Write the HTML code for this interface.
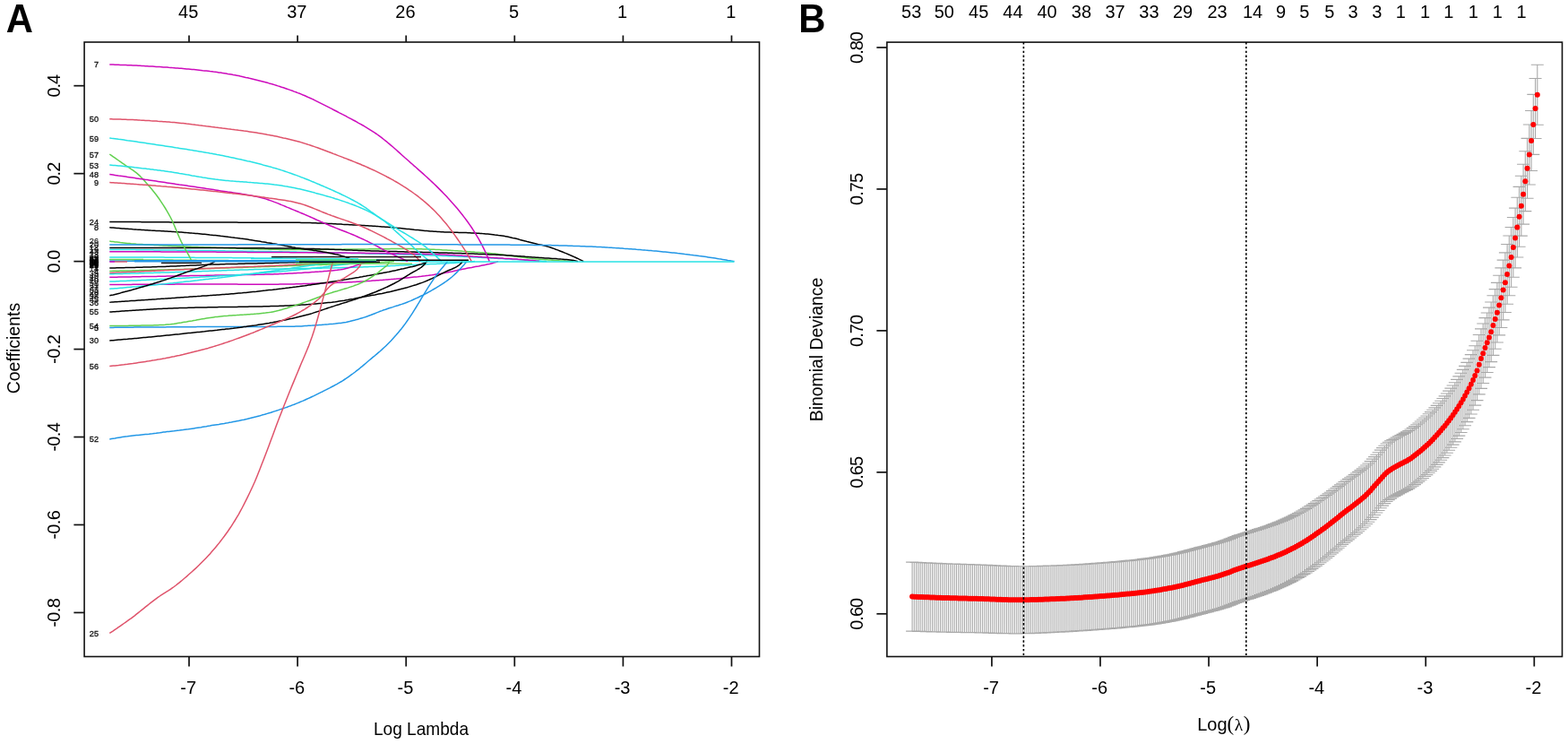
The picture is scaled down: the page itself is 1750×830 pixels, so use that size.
<!DOCTYPE html>
<html><head><meta charset="utf-8"><title>LASSO</title>
<style>html,body{margin:0;padding:0;background:#fff;}svg{display:block;}</style>
</head><body>
<svg width="1750" height="830" viewBox="0 0 1750 830">
<rect width="1750" height="830" fill="#fff"/>
<path d="M122.3 269.1 124.3 269.4 126.3 269.6 128.3 269.9 130.3 270.1 132.3 270.3 134.3 270.6 136.3 270.8 138.3 271.0 140.3 271.2 142.3 271.4 144.3 271.6 146.3 271.8 148.3 271.9 150.3 272.1 152.3 272.3 154.3 272.4 156.3 272.5 158.3 272.6 160.3 272.8 162.3 272.9 164.3 273.0 166.3 273.1 168.3 273.2 170.3 273.3 172.3 273.4 174.3 273.5 176.3 273.6 178.3 273.7 180.3 273.8 182.3 273.9 184.3 274.0 186.3 274.1 188.3 274.2 190.3 274.3 192.3 274.4 194.3 274.5 196.3 274.6 198.3 274.7 200.3 274.8 202.3 274.9 204.3 274.9 206.3 275.0 208.3 275.1 210.3 275.2 212.3 275.3 214.3 275.4 216.3 275.5 218.3 275.5 220.3 275.6 222.3 275.7 224.3 275.8 226.3 275.8 228.3 275.9 230.3 276.0 232.3 276.0 234.3 276.1 236.3 276.2 238.3 276.2 240.3 276.3 242.3 276.4 244.3 276.5 246.3 276.5 248.3 276.6 250.3 276.7 252.3 276.7 254.3 276.8 256.3 276.9 258.3 276.9 260.3 277.0 262.3 277.1 264.3 277.1 266.3 277.2 268.3 277.3 270.3 277.3 272.3 277.4 274.3 277.5 276.3 277.5 278.3 277.6 280.3 277.7 282.3 277.7 284.3 277.8 286.3 277.8 288.3 277.9 290.3 277.9 292.3 278.0 294.3 278.0 296.3 278.1 298.3 278.1 300.3 278.2 302.3 278.2 304.3 278.2 306.3 278.3 308.3 278.3 310.3 278.3 312.3 278.4 314.3 278.4 316.3 278.4 318.3 278.4 320.3 278.5 322.3 278.5 324.3 278.5 326.3 278.5 328.3 278.5 330.3 278.5 332.3 278.5 334.3 278.5 336.3 278.5 338.3 278.5 340.3 278.5 342.3 278.5 344.3 278.5 346.3 278.5 348.3 278.4 350.3 278.4 352.3 278.4 354.3 278.4 356.3 278.4 358.3 278.4 360.3 278.4 362.3 278.3 364.3 278.3 366.3 278.3 368.3 278.3 370.3 278.3 372.3 278.3 374.3 278.2 376.3 278.2 378.3 278.2 380.3 278.2 382.3 278.2 384.3 278.1 386.3 278.1 388.3 278.1 390.3 278.1 392.3 278.0 394.3 278.0 396.3 278.0 398.3 278.0 400.3 278.0 402.3 277.9 404.3 277.9 406.3 277.9 408.3 277.9 410.3 277.9 412.3 277.8 414.3 277.8 416.3 277.8 418.3 277.8 420.3 277.8 422.3 277.7 424.3 277.7 426.3 277.7 428.3 277.7 430.3 277.7 432.3 277.7 434.3 277.7 436.3 277.6 438.3 277.6 440.3 277.6 442.3 277.6 444.3 277.6 446.3 277.6 448.3 277.6 450.3 277.6 452.3 277.6 454.3 277.6 456.3 277.6 458.3 277.6 460.3 277.6 462.3 277.7 464.3 277.7 466.3 277.7 468.3 277.8 470.3 277.8 472.3 277.9 474.3 278.0 476.3 278.0 478.3 278.1 480.3 278.2 482.3 278.3 484.3 278.3 486.3 278.4 488.3 278.5 490.3 278.6 492.3 278.7 494.3 278.9 496.3 279.0 498.3 279.1 500.3 279.2 502.3 279.3 504.3 279.4 506.3 279.6 508.3 279.7 510.3 279.8 512.3 280.0 514.3 280.1 516.3 280.3 518.3 280.4 520.3 280.5 522.3 280.7 524.3 280.8 526.3 281.0 528.3 281.1 530.3 281.3 532.3 281.4 534.3 281.5 536.3 281.7 538.3 281.8 540.3 282.0 542.3 282.1 544.3 282.3 546.3 282.5 548.3 282.7 550.3 282.9 552.3 283.1 554.3 283.3 556.3 283.6 558.3 283.8 560.3 284.1 562.3 284.4 564.3 284.6 566.3 284.9 568.3 285.2 570.3 285.4 572.3 285.7 574.3 286.0 576.3 286.3 578.3 286.5 580.3 286.8 582.3 287.1 584.3 287.3 586.3 287.6 588.3 287.8 590.3 288.0 592.3 288.3 594.3 288.5 596.3 288.7 598.3 288.9 600.3 289.0 602.3 289.2 604.3 289.3 606.3 289.5 608.3 289.7 610.3 289.8 612.3 290.0 614.3 290.1 616.3 290.2 618.3 290.4 620.3 290.5 622.3 290.6 624.3 290.8 626.3 290.9 628.3 291.0 630.3 291.1 632.3 291.2 634.3 291.3 636.3 291.4 638.3 291.5 640.0 291.6" stroke="#61D04F" stroke-width="1.5" fill="none" stroke-linejoin="round"/>
<path d="M122.3 276.4 124.3 276.4 126.3 276.4 128.3 276.4 130.3 276.4 132.3 276.4 134.3 276.4 136.3 276.4 138.3 276.4 140.3 276.4 142.3 276.4 144.3 276.4 146.3 276.4 148.3 276.4 150.3 276.4 152.3 276.4 154.3 276.4 156.3 276.4 158.3 276.4 160.3 276.4 162.3 276.4 164.3 276.4 166.3 276.4 168.3 276.4 170.3 276.4 172.3 276.4 174.3 276.4 176.3 276.4 178.3 276.4 180.3 276.4 182.3 276.5 184.3 276.5 186.3 276.5 188.3 276.5 190.3 276.5 192.3 276.5 194.3 276.5 196.3 276.5 198.3 276.5 200.3 276.5 202.3 276.5 204.3 276.5 206.3 276.5 208.3 276.5 210.3 276.5 212.3 276.5 214.3 276.5 216.3 276.5 218.3 276.5 220.3 276.5 222.3 276.5 224.3 276.5 226.3 276.5 228.3 276.5 230.3 276.5 232.3 276.6 234.3 276.6 236.3 276.6 238.3 276.6 240.3 276.6 242.3 276.6 244.3 276.6 246.3 276.6 248.3 276.6 250.3 276.6 252.3 276.6 254.3 276.6 256.3 276.6 258.3 276.6 260.3 276.6 262.3 276.6 264.3 276.7 266.3 276.7 268.3 276.7 270.3 276.7 272.3 276.7 274.3 276.7 276.3 276.7 278.3 276.7 280.3 276.7 282.3 276.8 284.3 276.8 286.3 276.8 288.3 276.8 290.3 276.8 292.3 276.8 294.3 276.8 296.3 276.9 298.3 276.9 300.3 276.9 302.3 276.9 304.3 276.9 306.3 276.9 308.3 277.0 310.3 277.0 312.3 277.0 314.3 277.0 316.3 277.0 318.3 277.1 320.3 277.1 322.3 277.1 324.3 277.1 326.3 277.2 328.3 277.2 330.3 277.2 332.3 277.2 334.3 277.3 336.3 277.3 338.3 277.3 340.3 277.4 342.3 277.4 344.3 277.5 346.3 277.5 348.3 277.6 350.3 277.6 352.3 277.7 354.3 277.7 356.3 277.8 358.3 277.9 360.3 277.9 362.3 278.0 364.3 278.1 366.3 278.1 368.3 278.2 370.3 278.3 372.3 278.3 374.3 278.4 376.3 278.5 378.3 278.6 380.3 278.6 382.3 278.7 384.3 278.8 386.3 278.9 388.3 278.9 390.3 279.0 392.3 279.1 394.3 279.2 396.3 279.2 398.3 279.3 400.3 279.4 402.3 279.5 404.3 279.5 406.3 279.6 408.3 279.7 410.3 279.8 412.3 279.8 414.3 279.9 416.3 279.9 418.3 280.0 420.3 280.1 422.3 280.1 424.3 280.2 426.3 280.2 428.3 280.3 430.3 280.3 432.3 280.4 434.3 280.4 436.3 280.5 438.3 280.5 440.3 280.6 442.3 280.6 444.3 280.7 446.3 280.7 448.3 280.8 450.3 280.8 452.3 280.9 454.3 280.9 456.3 281.0 458.3 281.0 460.3 281.1 462.3 281.1 464.3 281.2 466.3 281.2 468.3 281.3 470.3 281.3 472.3 281.4 474.3 281.4 476.3 281.5 478.3 281.5 480.3 281.6 482.3 281.6 484.3 281.7 486.3 281.7 488.3 281.8 490.3 281.9 492.3 281.9 494.3 282.0 496.3 282.0 498.3 282.1 500.3 282.2 502.3 282.2 504.3 282.3 506.3 282.4 508.3 282.4 510.3 282.5 512.3 282.6 514.3 282.6 516.3 282.7 518.3 282.8 520.3 282.8 522.3 282.9 524.3 283.0 526.3 283.0 528.3 283.1 530.3 283.2 532.3 283.3 534.3 283.4 536.3 283.4 538.3 283.5 540.3 283.6 542.3 283.7 544.3 283.8 546.3 283.9 548.3 283.9 550.3 284.0 552.3 284.1 554.3 284.2 556.3 284.3 558.3 284.4 560.3 284.5 562.3 284.6 564.3 284.7 566.3 284.9 568.3 285.0 570.3 285.1 572.3 285.2 574.3 285.4 576.3 285.5 578.3 285.7 580.3 285.8 582.3 286.0 584.3 286.1 586.3 286.3 588.3 286.4 590.3 286.6 592.3 286.7 594.3 286.9 596.3 287.0 598.3 287.2 600.3 287.3 602.3 287.5 604.3 287.6 606.3 287.7 608.3 287.9 610.3 288.0 612.3 288.1 614.3 288.2 616.3 288.4 618.3 288.5 620.3 288.6 622.3 288.8 624.3 288.9 626.3 289.1 628.3 289.2 630.3 289.4 632.3 289.6 634.3 289.8 636.3 290.0 638.3 290.3 640.3 290.6 642.3 291.0 644.3 291.4 645.0 291.6" stroke="#000000" stroke-width="1.5" fill="none" stroke-linejoin="round"/>
<path d="M122.3 278.4 124.3 278.4 126.3 278.4 128.3 278.4 130.3 278.5 132.3 278.5 134.3 278.5 136.3 278.5 138.3 278.5 140.3 278.5 142.3 278.6 144.3 278.6 146.3 278.6 148.3 278.6 150.3 278.6 152.3 278.7 154.3 278.7 156.3 278.7 158.3 278.7 160.3 278.7 162.3 278.7 164.3 278.8 166.3 278.8 168.3 278.8 170.3 278.8 172.3 278.9 174.3 278.9 176.3 278.9 178.3 278.9 180.3 278.9 182.3 279.0 184.3 279.0 186.3 279.0 188.3 279.0 190.3 279.1 192.3 279.1 194.3 279.1 196.3 279.1 198.3 279.2 200.3 279.2 202.3 279.2 204.3 279.2 206.3 279.2 208.3 279.3 210.3 279.3 212.3 279.3 214.3 279.4 216.3 279.4 218.3 279.4 220.3 279.4 222.3 279.5 224.3 279.5 226.3 279.5 228.3 279.5 230.3 279.6 232.3 279.6 234.3 279.6 236.3 279.6 238.3 279.7 240.3 279.7 242.3 279.7 244.3 279.8 246.3 279.8 248.3 279.8 250.3 279.8 252.3 279.9 254.3 279.9 256.3 279.9 258.3 280.0 260.3 280.0 262.3 280.0 264.3 280.0 266.3 280.1 268.3 280.1 270.3 280.1 272.3 280.2 274.3 280.2 276.3 280.2 278.3 280.3 280.3 280.3 282.3 280.3 284.3 280.4 286.3 280.4 288.3 280.4 290.3 280.4 292.3 280.5 294.3 280.5 296.3 280.5 298.3 280.6 300.3 280.6 302.3 280.6 304.3 280.7 306.3 280.7 308.3 280.7 310.3 280.8 312.3 280.8 314.3 280.8 316.3 280.9 318.3 280.9 320.3 280.9 322.3 281.0 324.3 281.0 326.3 281.0 328.3 281.1 330.3 281.1 332.3 281.2 334.3 281.2 336.3 281.2 338.3 281.3 340.3 281.3 342.3 281.3 344.3 281.4 346.3 281.4 348.3 281.5 350.3 281.5 352.3 281.5 354.3 281.6 356.3 281.6 358.3 281.7 360.3 281.7 362.3 281.7 364.3 281.8 366.3 281.8 368.3 281.9 370.3 281.9 372.3 281.9 374.3 282.0 376.3 282.0 378.3 282.1 380.3 282.1 382.3 282.2 384.3 282.2 386.3 282.3 388.3 282.3 390.3 282.3 392.3 282.4 394.3 282.4 396.3 282.5 398.3 282.5 400.3 282.6 402.3 282.6 404.3 282.7 406.3 282.7 408.3 282.8 410.3 282.8 412.3 282.9 414.3 282.9 416.3 283.0 418.3 283.0 420.3 283.1 422.3 283.1 424.3 283.2 426.3 283.2 428.3 283.3 430.3 283.3 432.3 283.4 434.3 283.4 436.3 283.5 438.3 283.6 440.3 283.6 442.3 283.7 444.3 283.7 446.3 283.8 448.3 283.8 450.3 283.9 452.3 284.0 454.3 284.0 456.3 284.1 458.3 284.1 460.3 284.2 462.3 284.3 464.3 284.3 466.3 284.4 468.3 284.5 470.3 284.5 472.3 284.6 474.3 284.7 476.3 284.8 478.3 284.8 480.3 284.9 482.3 285.0 484.3 285.0 486.3 285.1 488.3 285.2 490.3 285.3 492.3 285.3 494.3 285.4 496.3 285.5 498.3 285.6 500.3 285.7 502.3 285.7 504.3 285.8 506.3 285.9 508.3 286.0 510.3 286.1 512.3 286.2 514.3 286.3 516.3 286.3 518.3 286.4 520.3 286.5 522.3 286.6 524.3 286.7 526.3 286.8 528.3 286.9 530.3 287.0 532.3 287.1 534.3 287.2 536.3 287.3 538.3 287.4 540.3 287.5 542.3 287.6 544.3 287.7 546.3 287.8 548.3 288.0 550.3 288.1 552.3 288.2 554.3 288.3 556.3 288.4 558.3 288.5 560.3 288.6 562.3 288.8 564.3 288.9 566.3 289.0 568.3 289.1 570.3 289.2 572.3 289.4 574.3 289.5 576.3 289.6 578.3 289.7 580.3 289.8 582.3 289.9 584.3 290.0 586.3 290.2 588.3 290.3 590.3 290.4 592.3 290.5 594.3 290.6 596.3 290.8 598.3 290.9 600.3 291.0 602.3 291.1 604.3 291.2 606.3 291.4 608.3 291.5 610.0 291.6" stroke="#28E2E5" stroke-width="1.5" fill="none" stroke-linejoin="round"/>
<path d="M122.3 280.7 124.3 280.7 126.3 280.7 128.3 280.7 130.3 280.7 132.3 280.7 134.3 280.7 136.3 280.7 138.3 280.7 140.3 280.7 142.3 280.7 144.3 280.7 146.3 280.7 148.3 280.8 150.3 280.8 152.3 280.8 154.3 280.8 156.3 280.8 158.3 280.8 160.3 280.8 162.3 280.8 164.3 280.8 166.3 280.8 168.3 280.8 170.3 280.8 172.3 280.8 174.3 280.8 176.3 280.8 178.3 280.8 180.3 280.9 182.3 280.9 184.3 280.9 186.3 280.9 188.3 280.9 190.3 280.9 192.3 280.9 194.3 280.9 196.3 280.9 198.3 280.9 200.3 280.9 202.3 280.9 204.3 281.0 206.3 281.0 208.3 281.0 210.3 281.0 212.3 281.0 214.3 281.0 216.3 281.0 218.3 281.0 220.3 281.0 222.3 281.0 224.3 281.1 226.3 281.1 228.3 281.1 230.3 281.1 232.3 281.1 234.3 281.1 236.3 281.1 238.3 281.1 240.3 281.1 242.3 281.2 244.3 281.2 246.3 281.2 248.3 281.2 250.3 281.2 252.3 281.2 254.3 281.2 256.3 281.2 258.3 281.2 260.3 281.3 262.3 281.3 264.3 281.3 266.3 281.3 268.3 281.3 270.3 281.3 272.3 281.3 274.3 281.3 276.3 281.4 278.3 281.4 280.3 281.4 282.3 281.4 284.3 281.4 286.3 281.4 288.3 281.4 290.3 281.4 292.3 281.5 294.3 281.5 296.3 281.5 298.3 281.5 300.3 281.5 302.3 281.5 304.3 281.5 306.3 281.5 308.3 281.6 310.3 281.6 312.3 281.6 314.3 281.6 316.3 281.6 318.3 281.6 320.3 281.6 322.3 281.6 324.3 281.7 326.3 281.7 328.3 281.7 330.3 281.7 332.3 281.7 334.3 281.7 336.3 281.7 338.3 281.7 340.3 281.8 342.3 281.8 344.3 281.8 346.3 281.8 348.3 281.8 350.3 281.8 352.3 281.8 354.3 281.9 356.3 281.9 358.3 281.9 360.3 281.9 362.3 281.9 364.3 281.9 366.3 282.0 368.3 282.0 370.3 282.0 372.3 282.0 374.3 282.0 376.3 282.0 378.3 282.1 380.3 282.1 382.3 282.1 384.3 282.1 386.3 282.1 388.3 282.2 390.3 282.2 392.3 282.2 394.3 282.2 396.3 282.2 398.3 282.3 400.3 282.3 402.3 282.3 404.3 282.3 406.3 282.3 408.3 282.4 410.3 282.4 412.3 282.4 414.3 282.4 416.3 282.5 418.3 282.5 420.3 282.5 422.3 282.5 424.3 282.6 426.3 282.6 428.3 282.6 430.3 282.6 432.3 282.7 434.3 282.7 436.3 282.7 438.3 282.7 440.3 282.8 442.3 282.8 444.3 282.8 446.3 282.9 448.3 282.9 450.3 282.9 452.3 283.0 454.3 283.0 456.3 283.0 458.3 283.1 460.3 283.1 462.3 283.1 464.3 283.2 466.3 283.2 468.3 283.2 470.3 283.3 472.3 283.3 474.3 283.4 476.3 283.4 478.3 283.4 480.3 283.5 482.3 283.5 484.3 283.6 486.3 283.7 488.3 283.7 490.3 283.8 492.3 283.9 494.3 284.0 496.3 284.1 498.3 284.2 500.3 284.3 502.3 284.4 504.3 284.5 506.3 284.6 508.3 284.8 510.3 284.9 512.3 285.0 514.3 285.1 516.3 285.3 518.3 285.4 520.3 285.5 522.3 285.7 524.3 285.8 526.3 285.9 528.3 286.1 530.3 286.2 532.3 286.3 534.3 286.5 536.3 286.6 538.3 286.8 540.3 286.9 542.3 287.0 544.3 287.2 546.3 287.3 548.3 287.4 550.3 287.5 552.3 287.7 554.3 287.8 556.3 287.9 558.3 288.0 560.3 288.1 562.3 288.3 564.3 288.4 566.3 288.5 568.3 288.6 570.3 288.7 572.3 288.9 574.3 289.0 576.3 289.1 578.3 289.3 580.3 289.4 582.3 289.6 584.3 289.7 586.3 289.9 588.3 290.0 590.3 290.2 592.3 290.4 594.3 290.6 596.3 290.8 598.3 291.1 600.3 291.3 602.0 291.6" stroke="#CD0BBC" stroke-width="1.5" fill="none" stroke-linejoin="round"/>
<path d="M122.3 287.0 124.3 287.0 126.3 287.0 128.3 287.0 130.3 287.0 132.3 287.0 134.3 287.0 136.3 287.0 138.3 287.0 140.3 287.0 142.3 287.0 144.3 287.0 146.3 287.0 148.3 287.0 150.3 287.0 152.3 287.0 154.3 287.0 156.3 287.0 158.3 287.1 160.3 287.1 162.3 287.1 164.3 287.1 166.3 287.1 168.3 287.1 170.3 287.1 172.3 287.1 174.3 287.1 176.3 287.1 178.3 287.1 180.3 287.1 182.3 287.1 184.3 287.2 186.3 287.2 188.3 287.2 190.3 287.2 192.3 287.2 194.3 287.2 196.3 287.2 198.3 287.2 200.3 287.2 202.3 287.3 204.3 287.3 206.3 287.3 208.3 287.3 210.3 287.3 212.3 287.3 214.3 287.3 216.3 287.3 218.3 287.4 220.3 287.4 222.3 287.4 224.3 287.4 226.3 287.4 228.3 287.4 230.3 287.4 232.3 287.4 234.3 287.5 236.3 287.5 238.3 287.5 240.3 287.5 242.3 287.5 244.3 287.5 246.3 287.6 248.3 287.6 250.3 287.6 252.3 287.6 254.3 287.6 256.3 287.6 258.3 287.6 260.3 287.7 262.3 287.7 264.3 287.7 266.3 287.7 268.3 287.7 270.3 287.7 272.3 287.8 274.3 287.8 276.3 287.8 278.3 287.8 280.3 287.8 282.3 287.8 284.3 287.9 286.3 287.9 288.3 287.9 290.3 287.9 292.3 287.9 294.3 288.0 296.3 288.0 298.3 288.0 300.3 288.0 302.3 288.0 304.3 288.0 306.3 288.1 308.3 288.1 310.3 288.1 312.3 288.1 314.3 288.1 316.3 288.2 318.3 288.2 320.3 288.2 322.3 288.2 324.3 288.3 326.3 288.3 328.3 288.3 330.3 288.3 332.3 288.4 334.3 288.4 336.3 288.4 338.3 288.5 340.3 288.5 342.3 288.5 344.3 288.6 346.3 288.6 348.3 288.6 350.3 288.7 352.3 288.7 354.3 288.7 356.3 288.8 358.3 288.8 360.3 288.8 362.3 288.9 364.3 288.9 366.3 288.9 368.3 289.0 370.3 289.0 372.3 289.0 374.3 289.1 376.3 289.1 378.3 289.2 380.3 289.2 382.3 289.2 384.3 289.3 386.3 289.3 388.3 289.4 390.3 289.4 392.3 289.4 394.3 289.5 396.3 289.5 398.3 289.6 400.3 289.6 402.3 289.6 404.3 289.7 406.3 289.7 408.3 289.8 410.3 289.8 412.3 289.9 414.3 289.9 416.3 290.0 418.3 290.0 420.3 290.1 422.3 290.1 424.3 290.2 426.3 290.2 428.3 290.3 430.3 290.4 432.3 290.4 434.3 290.5 436.3 290.5 438.3 290.6 440.3 290.6 442.3 290.7 444.3 290.8 446.3 290.8 448.3 290.9 450.3 291.0 452.3 291.0 454.3 291.1 456.3 291.1 458.3 291.2 460.3 291.3 462.3 291.3 464.3 291.4 466.3 291.5 468.3 291.5 470.0 291.6" stroke="#28E2E5" stroke-width="1.5" fill="none" stroke-linejoin="round"/>
<path d="M122.3 289.7 124.3 289.7 126.3 289.7 128.3 289.7 130.3 289.7 132.3 289.8 134.3 289.8 136.3 289.8 138.3 289.8 140.3 289.8 142.3 289.8 144.3 289.8 146.3 289.8 148.3 289.9 150.3 289.9 152.3 289.9 154.3 289.9 156.3 289.9 158.3 289.9 160.3 289.9 162.3 289.9 164.3 290.0 166.3 290.0 168.3 290.0 170.3 290.0 172.3 290.0 174.3 290.0 176.3 290.0 178.3 290.0 180.3 290.1 182.3 290.1 184.3 290.1 186.3 290.1 188.3 290.1 190.3 290.1 192.3 290.1 194.3 290.2 196.3 290.2 198.3 290.2 200.3 290.2 202.3 290.2 204.3 290.2 206.3 290.3 208.3 290.3 210.3 290.3 212.3 290.3 214.3 290.3 216.3 290.3 218.3 290.3 220.3 290.4 222.3 290.4 224.3 290.4 226.3 290.4 228.3 290.4 230.3 290.4 232.3 290.5 234.3 290.5 236.3 290.5 238.3 290.5 240.3 290.5 242.3 290.5 244.3 290.6 246.3 290.6 248.3 290.6 250.3 290.6 252.3 290.6 254.3 290.6 256.3 290.7 258.3 290.7 260.3 290.7 262.3 290.7 264.3 290.7 266.3 290.7 268.3 290.8 270.3 290.8 272.3 290.8 274.3 290.8 276.3 290.8 278.3 290.9 280.3 290.9 282.3 290.9 284.3 290.9 286.3 290.9 288.3 290.9 290.3 291.0 292.3 291.0 294.3 291.0 296.3 291.0 298.3 291.0 300.3 291.1 302.3 291.1 304.3 291.1 306.3 291.1 308.3 291.1 310.3 291.2 312.3 291.2 314.3 291.2 316.3 291.2 318.3 291.3 320.3 291.3 322.3 291.3 324.3 291.3 326.3 291.3 328.3 291.4 330.3 291.4 332.3 291.4 334.3 291.4 336.3 291.4 338.3 291.5 340.3 291.5 342.3 291.5 344.3 291.5 346.3 291.6 348.3 291.6 350.0 291.6" stroke="#61D04F" stroke-width="1.5" fill="none" stroke-linejoin="round"/>
<path d="M122.3 291.2 124.3 291.2 126.3 291.2 128.3 291.2 130.3 291.2 132.3 291.2 134.3 291.2 136.3 291.2 138.3 291.2 140.3 291.2 142.3 291.2 144.3 291.2 146.3 291.2 148.3 291.2 150.3 291.2 152.3 291.2 154.3 291.2 156.3 291.2 158.3 291.2 160.3 291.2 162.3 291.2 164.3 291.2 166.3 291.2 168.3 291.2 170.3 291.2 172.3 291.2 174.3 291.2 176.3 291.2 178.3 291.2 180.3 291.2 182.3 291.2 184.3 291.2 186.3 291.2 188.3 291.2 190.3 291.2 192.3 291.2 194.3 291.2 196.3 291.2 198.3 291.2 200.3 291.2 202.3 291.2 204.3 291.2 206.3 291.2 208.3 291.2 210.3 291.2 212.3 291.2 214.3 291.2 216.3 291.2 218.3 291.2 220.3 291.2 222.3 291.2 224.3 291.2 226.3 291.2 228.3 291.2 230.3 291.2 232.3 291.2 234.3 291.2 236.3 291.2 238.3 291.2 240.3 291.2 242.3 291.3 244.3 291.3 246.3 291.3 248.3 291.3 250.3 291.3 252.3 291.3 254.3 291.3 256.3 291.3 258.3 291.3 260.3 291.3 262.3 291.3 264.3 291.3 266.3 291.3 268.3 291.3 270.3 291.3 272.3 291.3 274.3 291.3 276.3 291.3 278.3 291.3 280.3 291.3 282.3 291.3 284.3 291.3 286.3 291.3 288.3 291.3 290.3 291.3 292.3 291.3 294.3 291.3 296.3 291.3 298.3 291.3 300.3 291.3 302.3 291.3 304.3 291.3 306.3 291.3 308.3 291.3 310.3 291.3 312.3 291.3 314.3 291.3 316.3 291.3 318.3 291.3 320.3 291.3 322.3 291.3 324.3 291.3 326.3 291.3 328.3 291.3 330.3 291.3 332.3 291.3 334.3 291.4 336.3 291.4 338.3 291.4 340.3 291.4 342.3 291.4 344.3 291.4 346.3 291.4 348.3 291.4 350.3 291.4 352.3 291.4 354.3 291.4 356.3 291.4 358.3 291.4 360.3 291.4 362.3 291.4 364.3 291.4 366.3 291.4 368.3 291.4 370.3 291.4 372.3 291.4 374.3 291.5 376.3 291.5 378.3 291.5 380.3 291.5 382.3 291.5 384.3 291.5 386.3 291.5 388.3 291.5 390.3 291.5 392.3 291.5 394.3 291.5 396.3 291.5 398.3 291.5 400.3 291.5 402.3 291.5 404.3 291.5 406.3 291.6 408.3 291.6 410.3 291.6 412.3 291.6 414.3 291.6 416.3 291.6 418.3 291.6 420.0 291.6" stroke="#2297E6" stroke-width="1.5" fill="none" stroke-linejoin="round"/>
<path d="M122.3 299.0 124.3 299.0 126.3 298.9 128.3 298.9 130.3 298.8 132.3 298.8 134.3 298.8 136.3 298.7 138.3 298.7 140.3 298.6 142.3 298.6 144.3 298.5 146.3 298.5 148.3 298.4 150.3 298.4 152.3 298.3 154.3 298.3 156.3 298.2 158.3 298.2 160.3 298.1 162.3 298.0 164.3 298.0 166.3 297.9 168.3 297.9 170.3 297.8 172.3 297.7 174.3 297.7 176.3 297.6 178.3 297.6 180.3 297.5 182.3 297.4 184.3 297.4 186.3 297.3 188.3 297.2 190.3 297.1 192.3 297.0 194.3 297.0 196.3 296.9 198.3 296.8 200.3 296.7 202.3 296.6 204.3 296.5 206.3 296.4 208.3 296.3 210.3 296.2 212.3 296.1 214.3 296.0 216.3 296.0 218.3 295.9 220.3 295.8 222.3 295.7 224.3 295.6 226.3 295.5 228.3 295.4 230.3 295.3 232.3 295.3 234.3 295.2 236.3 295.1 238.3 295.1 240.3 295.0 242.3 294.9 244.3 294.9 246.3 294.8 248.3 294.8 250.3 294.7 252.3 294.6 254.3 294.6 256.3 294.5 258.3 294.5 260.3 294.5 262.3 294.4 264.3 294.4 266.3 294.3 268.3 294.3 270.3 294.2 272.3 294.2 274.3 294.1 276.3 294.1 278.3 294.0 280.3 294.0 282.3 293.9 284.3 293.9 286.3 293.9 288.3 293.8 290.3 293.8 292.3 293.7 294.3 293.7 296.3 293.6 298.3 293.5 300.3 293.5 302.3 293.4 304.3 293.4 306.3 293.3 308.3 293.3 310.3 293.2 312.3 293.1 314.3 293.1 316.3 293.0 318.3 293.0 320.3 292.9 322.3 292.8 324.3 292.8 326.3 292.7 328.3 292.7 330.3 292.6 332.3 292.5 334.3 292.5 336.3 292.4 338.3 292.3 340.3 292.3 342.3 292.2 344.3 292.1 346.3 292.1 348.3 292.0 350.3 291.9 352.3 291.9 354.3 291.8 356.3 291.7 358.3 291.7 360.0 291.6" stroke="#000000" stroke-width="1.5" fill="none" stroke-linejoin="round"/>
<path d="M122.3 302.4 124.3 302.4 126.3 302.3 128.3 302.3 130.3 302.2 132.3 302.2 134.3 302.1 136.3 302.1 138.3 302.0 140.3 302.0 142.3 302.0 144.3 301.9 146.3 301.9 148.3 301.8 150.3 301.8 152.3 301.7 154.3 301.7 156.3 301.6 158.3 301.6 160.3 301.5 162.3 301.5 164.3 301.4 166.3 301.4 168.3 301.3 170.3 301.3 172.3 301.2 174.3 301.2 176.3 301.1 178.3 301.1 180.3 301.0 182.3 301.0 184.3 300.9 186.3 300.9 188.3 300.8 190.3 300.8 192.3 300.7 194.3 300.7 196.3 300.6 198.3 300.5 200.3 300.5 202.3 300.4 204.3 300.4 206.3 300.3 208.3 300.3 210.3 300.2 212.3 300.2 214.3 300.1 216.3 300.0 218.3 300.0 220.3 299.9 222.3 299.9 224.3 299.8 226.3 299.7 228.3 299.7 230.3 299.6 232.3 299.6 234.3 299.5 236.3 299.4 238.3 299.4 240.3 299.3 242.3 299.3 244.3 299.2 246.3 299.1 248.3 299.1 250.3 299.0 252.3 298.9 254.3 298.9 256.3 298.8 258.3 298.8 260.3 298.7 262.3 298.6 264.3 298.6 266.3 298.5 268.3 298.4 270.3 298.4 272.3 298.3 274.3 298.2 276.3 298.2 278.3 298.1 280.3 298.0 282.3 298.0 284.3 297.9 286.3 297.8 288.3 297.8 290.3 297.7 292.3 297.6 294.3 297.6 296.3 297.5 298.3 297.4 300.3 297.4 302.3 297.3 304.3 297.2 306.3 297.2 308.3 297.1 310.3 297.0 312.3 296.9 314.3 296.9 316.3 296.8 318.3 296.7 320.3 296.7 322.3 296.6 324.3 296.5 326.3 296.5 328.3 296.4 330.3 296.3 332.3 296.3 334.3 296.2 336.3 296.1 338.3 296.1 340.3 296.0 342.3 295.9 344.3 295.9 346.3 295.8 348.3 295.7 350.3 295.7 352.3 295.6 354.3 295.5 356.3 295.5 358.3 295.4 360.3 295.3 362.3 295.3 364.3 295.2 366.3 295.1 368.3 295.1 370.3 295.0 372.3 294.9 374.3 294.9 376.3 294.8 378.3 294.7 380.3 294.7 382.3 294.6 384.3 294.5 386.3 294.5 388.3 294.4 390.3 294.3 392.3 294.2 394.3 294.2 396.3 294.1 398.3 294.0 400.3 293.9 402.3 293.8 404.3 293.7 406.3 293.7 408.3 293.6 410.3 293.5 412.3 293.4 414.3 293.3 416.3 293.2 418.3 293.1 420.3 293.0 422.3 292.9 424.3 292.8 426.3 292.6 428.3 292.5 430.3 292.3 432.3 292.2 434.3 292.0 436.3 291.9 438.3 291.7 440.0 291.6" stroke="#61D04F" stroke-width="1.5" fill="none" stroke-linejoin="round"/>
<path d="M122.3 304.5 124.3 304.4 126.3 304.3 128.3 304.2 130.3 304.1 132.3 304.0 134.3 303.9 136.3 303.8 138.3 303.7 140.3 303.7 142.3 303.6 144.3 303.5 146.3 303.4 148.3 303.3 150.3 303.2 152.3 303.1 154.3 303.0 156.3 302.9 158.3 302.8 160.3 302.7 162.3 302.6 164.3 302.5 166.3 302.4 168.3 302.4 170.3 302.3 172.3 302.2 174.3 302.1 176.3 302.0 178.3 301.9 180.3 301.8 182.3 301.7 184.3 301.6 186.3 301.5 188.3 301.4 190.3 301.3 192.3 301.3 194.3 301.2 196.3 301.1 198.3 301.0 200.3 300.9 202.3 300.8 204.3 300.7 206.3 300.6 208.3 300.5 210.3 300.4 212.3 300.3 214.3 300.3 216.3 300.2 218.3 300.1 220.3 300.0 222.3 299.9 224.3 299.8 226.3 299.7 228.3 299.6 230.3 299.5 232.3 299.4 234.3 299.4 236.3 299.3 238.3 299.2 240.3 299.1 242.3 299.0 244.3 298.9 246.3 298.8 248.3 298.8 250.3 298.7 252.3 298.6 254.3 298.5 256.3 298.4 258.3 298.3 260.3 298.3 262.3 298.2 264.3 298.1 266.3 298.0 268.3 297.9 270.3 297.9 272.3 297.8 274.3 297.7 276.3 297.6 278.3 297.5 280.3 297.5 282.3 297.4 284.3 297.3 286.3 297.2 288.3 297.1 290.3 297.0 292.3 297.0 294.3 296.9 296.3 296.8 298.3 296.7 300.3 296.6 302.3 296.5 304.3 296.4 306.3 296.4 308.3 296.3 310.3 296.2 312.3 296.1 314.3 296.0 316.3 295.9 318.3 295.8 320.3 295.7 322.3 295.6 324.3 295.5 326.3 295.4 328.3 295.3 330.3 295.2 332.3 295.1 334.3 295.0 336.3 294.9 338.3 294.8 340.3 294.6 342.3 294.5 344.3 294.4 346.3 294.3 348.3 294.2 350.3 294.0 352.3 293.9 354.3 293.8 356.3 293.6 358.3 293.5 360.3 293.4 362.3 293.2 364.3 293.1 366.3 293.0 368.3 292.8 370.3 292.7 372.3 292.5 374.3 292.4 376.3 292.2 378.3 292.1 380.3 291.9 382.3 291.8 384.3 291.7 385.0 291.6" stroke="#DF536B" stroke-width="1.5" fill="none" stroke-linejoin="round"/>
<path d="M122.3 305.8 124.3 305.7 126.3 305.7 128.3 305.6 130.3 305.6 132.3 305.5 134.3 305.5 136.3 305.4 138.3 305.3 140.3 305.3 142.3 305.2 144.3 305.2 146.3 305.1 148.3 305.1 150.3 305.0 152.3 304.9 154.3 304.9 156.3 304.8 158.3 304.8 160.3 304.7 162.3 304.6 164.3 304.6 166.3 304.5 168.3 304.5 170.3 304.4 172.3 304.3 174.3 304.3 176.3 304.2 178.3 304.2 180.3 304.1 182.3 304.0 184.3 304.0 186.3 303.9 188.3 303.9 190.3 303.8 192.3 303.7 194.3 303.7 196.3 303.6 198.3 303.6 200.3 303.5 202.3 303.4 204.3 303.4 206.3 303.3 208.3 303.2 210.3 303.2 212.3 303.1 214.3 303.0 216.3 303.0 218.3 302.9 220.3 302.8 222.3 302.8 224.3 302.7 226.3 302.6 228.3 302.5 230.3 302.5 232.3 302.4 234.3 302.3 236.3 302.3 238.3 302.2 240.3 302.1 242.3 302.0 244.3 302.0 246.3 301.9 248.3 301.8 250.3 301.7 252.3 301.7 254.3 301.6 256.3 301.5 258.3 301.5 260.3 301.4 262.3 301.3 264.3 301.3 266.3 301.2 268.3 301.1 270.3 301.1 272.3 301.0 274.3 300.9 276.3 300.9 278.3 300.8 280.3 300.7 282.3 300.7 284.3 300.6 286.3 300.6 288.3 300.5 290.3 300.4 292.3 300.4 294.3 300.3 296.3 300.3 298.3 300.2 300.3 300.2 302.3 300.1 304.3 300.1 306.3 300.1 308.3 300.0 310.3 300.0 312.3 299.9 314.3 299.9 316.3 299.9 318.3 299.8 320.3 299.8 322.3 299.8 324.3 299.7 326.3 299.7 328.3 299.7 330.3 299.6 332.3 299.6 334.3 299.6 336.3 299.5 338.3 299.5 340.3 299.5 342.3 299.4 344.3 299.4 346.3 299.4 348.3 299.3 350.3 299.3 352.3 299.3 354.3 299.2 356.3 299.2 358.3 299.2 360.3 299.1 362.3 299.1 364.3 299.1 366.3 299.0 368.3 299.0 370.3 298.9 372.3 298.9 374.3 298.8 376.3 298.8 378.3 298.7 380.3 298.7 382.3 298.6 384.3 298.6 386.3 298.5 388.3 298.5 390.3 298.4 392.3 298.3 394.3 298.3 396.3 298.2 398.3 298.1 400.3 298.1 402.3 298.0 404.3 297.9 406.3 297.8 408.3 297.8 410.3 297.7 412.3 297.6 414.3 297.5 416.3 297.4 418.3 297.4 420.3 297.3 422.3 297.2 424.3 297.1 426.3 297.0 428.3 296.9 430.3 296.8 432.3 296.8 434.3 296.7 436.3 296.6 438.3 296.5 440.3 296.4 442.3 296.3 444.3 296.2 446.3 296.1 448.3 296.0 450.3 295.9 452.3 295.8 454.3 295.8 456.3 295.7 458.3 295.6 460.3 295.5 462.3 295.4 464.3 295.3 466.3 295.2 468.3 295.1 470.3 295.1 472.3 295.0 474.3 294.9 476.3 294.8 478.3 294.7 480.3 294.6 482.3 294.5 484.3 294.4 486.3 294.4 488.3 294.3 490.3 294.2 492.3 294.1 494.3 294.0 496.3 293.9 498.3 293.8 500.3 293.7 502.3 293.6 504.3 293.5 506.3 293.4 508.3 293.2 510.3 293.1 512.3 293.0 514.3 292.9 516.3 292.7 518.3 292.6 520.3 292.5 522.3 292.3 524.3 292.1 526.3 292.0 528.3 291.8 530.0 291.6" stroke="#28E2E5" stroke-width="1.5" fill="none" stroke-linejoin="round"/>
<path d="M122.3 309.3 124.3 309.3 126.3 309.2 128.3 309.2 130.3 309.2 132.3 309.1 134.3 309.1 136.3 309.0 138.3 309.0 140.3 309.0 142.3 308.9 144.3 308.9 146.3 308.9 148.3 308.8 150.3 308.8 152.3 308.8 154.3 308.7 156.3 308.7 158.3 308.6 160.3 308.6 162.3 308.6 164.3 308.5 166.3 308.5 168.3 308.5 170.3 308.4 172.3 308.4 174.3 308.4 176.3 308.3 178.3 308.3 180.3 308.2 182.3 308.2 184.3 308.2 186.3 308.1 188.3 308.1 190.3 308.1 192.3 308.0 194.3 308.0 196.3 307.9 198.3 307.9 200.3 307.9 202.3 307.8 204.3 307.8 206.3 307.8 208.3 307.7 210.3 307.7 212.3 307.6 214.3 307.6 216.3 307.6 218.3 307.5 220.3 307.5 222.3 307.5 224.3 307.4 226.3 307.4 228.3 307.4 230.3 307.3 232.3 307.3 234.3 307.2 236.3 307.2 238.3 307.2 240.3 307.1 242.3 307.1 244.3 307.1 246.3 307.0 248.3 307.0 250.3 307.0 252.3 306.9 254.3 306.9 256.3 306.9 258.3 306.8 260.3 306.8 262.3 306.8 264.3 306.8 266.3 306.7 268.3 306.7 270.3 306.6 272.3 306.6 274.3 306.6 276.3 306.5 278.3 306.5 280.3 306.5 282.3 306.4 284.3 306.4 286.3 306.3 288.3 306.3 290.3 306.2 292.3 306.2 294.3 306.2 296.3 306.1 298.3 306.0 300.3 306.0 302.3 305.9 304.3 305.9 306.3 305.8 308.3 305.7 310.3 305.7 312.3 305.6 314.3 305.5 316.3 305.4 318.3 305.3 320.3 305.2 322.3 305.1 324.3 305.0 326.3 304.9 328.3 304.8 330.3 304.7 332.3 304.6 334.3 304.5 336.3 304.4 338.3 304.2 340.3 304.1 342.3 304.0 344.3 303.9 346.3 303.7 348.3 303.6 350.3 303.5 352.3 303.3 354.3 303.2 356.3 303.1 358.3 302.9 360.3 302.8 362.3 302.6 364.3 302.5 366.3 302.3 368.3 302.1 370.3 301.9 372.3 301.7 374.3 301.5 376.3 301.3 378.3 301.0 380.3 300.8 382.3 300.4 384.3 300.0 386.3 299.5 388.3 299.0 390.3 298.4 392.3 297.8 394.3 297.2 396.3 296.5 398.3 295.9 400.3 295.3 402.3 294.6 404.3 293.8 406.3 293.1 408.3 292.3 410.0 291.6" stroke="#CD0BBC" stroke-width="1.5" fill="none" stroke-linejoin="round"/>
<path d="M122.3 314.1 124.3 314.0 126.3 313.9 128.3 313.9 130.3 313.8 132.3 313.7 134.3 313.6 136.3 313.5 138.3 313.5 140.3 313.4 142.3 313.3 144.3 313.2 146.3 313.1 148.3 313.0 150.3 312.9 152.3 312.9 154.3 312.8 156.3 312.7 158.3 312.6 160.3 312.5 162.3 312.4 164.3 312.3 166.3 312.2 168.3 312.1 170.3 312.0 172.3 311.9 174.3 311.8 176.3 311.7 178.3 311.6 180.3 311.5 182.3 311.4 184.3 311.3 186.3 311.2 188.3 311.1 190.3 311.0 192.3 310.9 194.3 310.8 196.3 310.7 198.3 310.6 200.3 310.5 202.3 310.4 204.3 310.3 206.3 310.2 208.3 310.0 210.3 309.9 212.3 309.8 214.3 309.7 216.3 309.6 218.3 309.5 220.3 309.4 222.3 309.3 224.3 309.1 226.3 309.0 228.3 308.9 230.3 308.8 232.3 308.7 234.3 308.6 236.3 308.4 238.3 308.3 240.3 308.2 242.3 308.1 244.3 307.9 246.3 307.8 248.3 307.7 250.3 307.6 252.3 307.4 254.3 307.3 256.3 307.2 258.3 307.0 260.3 306.9 262.3 306.8 264.3 306.6 266.3 306.5 268.3 306.4 270.3 306.2 272.3 306.1 274.3 305.9 276.3 305.8 278.3 305.7 280.3 305.5 282.3 305.4 284.3 305.2 286.3 305.1 288.3 304.9 290.3 304.8 292.3 304.6 294.3 304.5 296.3 304.3 298.3 304.1 300.3 304.0 302.3 303.8 304.3 303.6 306.3 303.5 308.3 303.3 310.3 303.1 312.3 302.9 314.3 302.8 316.3 302.6 318.3 302.4 320.3 302.2 322.3 302.0 324.3 301.8 326.3 301.6 328.3 301.4 330.3 301.2 332.3 301.0 334.3 300.8 336.3 300.6 338.3 300.4 340.3 300.2 342.3 299.9 344.3 299.7 346.3 299.5 348.3 299.3 350.3 299.1 352.3 298.9 354.3 298.6 356.3 298.4 358.3 298.2 360.3 298.0 362.3 297.7 364.3 297.5 366.3 297.3 368.3 297.0 370.3 296.8 372.3 296.6 374.3 296.3 376.3 296.1 378.3 295.8 380.3 295.6 382.3 295.3 384.3 295.1 386.3 294.8 388.3 294.5 390.3 294.3 392.3 294.0 394.3 293.8 396.3 293.5 398.3 293.2 400.3 293.0 402.3 292.7 404.3 292.4 406.3 292.1 408.3 291.8 410.0 291.6" stroke="#28E2E5" stroke-width="1.5" fill="none" stroke-linejoin="round"/>
<path d="M122.3 317.5 124.3 317.5 126.3 317.5 128.3 317.5 130.3 317.4 132.3 317.4 134.3 317.4 136.3 317.4 138.3 317.4 140.3 317.4 142.3 317.4 144.3 317.4 146.3 317.4 148.3 317.3 150.3 317.3 152.3 317.3 154.3 317.3 156.3 317.3 158.3 317.3 160.3 317.3 162.3 317.3 164.3 317.3 166.3 317.3 168.3 317.2 170.3 317.2 172.3 317.2 174.3 317.2 176.3 317.2 178.3 317.2 180.3 317.2 182.3 317.2 184.3 317.2 186.3 317.2 188.3 317.2 190.3 317.2 192.3 317.2 194.3 317.2 196.3 317.1 198.3 317.1 200.3 317.1 202.3 317.1 204.3 317.1 206.3 317.1 208.3 317.1 210.3 317.1 212.3 317.1 214.3 317.1 216.3 317.1 218.3 317.1 220.3 317.1 222.3 317.1 224.3 317.1 226.3 317.1 228.3 317.1 230.3 317.1 232.3 317.1 234.3 317.1 236.3 317.1 238.3 317.1 240.3 317.1 242.3 317.1 244.3 317.1 246.3 317.1 248.3 317.1 250.3 317.1 252.3 317.1 254.3 317.1 256.3 317.1 258.3 317.1 260.3 317.1 262.3 317.1 264.3 317.1 266.3 317.2 268.3 317.2 270.3 317.2 272.3 317.2 274.3 317.2 276.3 317.2 278.3 317.2 280.3 317.2 282.3 317.2 284.3 317.2 286.3 317.2 288.3 317.2 290.3 317.2 292.3 317.2 294.3 317.2 296.3 317.2 298.3 317.2 300.3 317.2 302.3 317.2 304.3 317.2 306.3 317.2 308.3 317.2 310.3 317.2 312.3 317.1 314.3 317.1 316.3 317.1 318.3 317.1 320.3 317.0 322.3 317.0 324.3 316.9 326.3 316.9 328.3 316.9 330.3 316.8 332.3 316.8 334.3 316.7 336.3 316.7 338.3 316.6 340.3 316.6 342.3 316.5 344.3 316.4 346.3 316.4 348.3 316.3 350.3 316.3 352.3 316.2 354.3 316.1 356.3 316.1 358.3 316.0 360.3 315.9 362.3 315.8 364.3 315.8 366.3 315.7 368.3 315.6 370.3 315.6 372.3 315.5 374.3 315.4 376.3 315.3 378.3 315.3 380.3 315.2 382.3 315.1 384.3 315.0 386.3 314.9 388.3 314.8 390.3 314.8 392.3 314.7 394.3 314.5 396.3 314.4 398.3 314.3 400.3 314.2 402.3 314.1 404.3 314.0 406.3 313.8 408.3 313.7 410.3 313.6 412.3 313.4 414.3 313.3 416.3 313.1 418.3 313.0 420.3 312.8 422.3 312.7 424.3 312.5 426.3 312.4 428.3 312.2 430.3 312.1 432.3 311.9 434.3 311.7 436.3 311.6 438.3 311.4 440.3 311.2 442.3 311.1 444.3 310.9 446.3 310.7 448.3 310.5 450.3 310.3 452.3 310.1 454.3 309.9 456.3 309.7 458.3 309.5 460.3 309.3 462.3 309.1 464.3 308.9 466.3 308.7 468.3 308.4 470.3 308.2 472.3 307.9 474.3 307.7 476.3 307.4 478.3 307.2 480.3 306.9 482.3 306.7 484.3 306.4 486.3 306.1 488.3 305.8 490.3 305.5 492.3 305.2 494.3 304.8 496.3 304.5 498.3 304.1 500.3 303.7 502.3 303.3 504.3 302.9 506.3 302.4 508.3 302.0 510.3 301.6 512.3 301.1 514.3 300.7 516.3 300.3 518.3 299.9 520.3 299.5 522.3 299.1 524.3 298.7 526.3 298.4 528.3 298.0 530.3 297.6 532.3 297.2 534.3 296.9 536.3 296.5 538.3 296.1 540.3 295.7 542.3 295.3 544.3 294.8 546.3 294.4 548.3 293.9 550.3 293.4 552.3 292.8 554.3 292.2 556.0 291.6" stroke="#CD0BBC" stroke-width="1.5" fill="none" stroke-linejoin="round"/>
<path d="M122.3 322.3 124.3 322.1 126.3 322.0 128.3 321.8 130.3 321.7 132.3 321.5 134.3 321.3 136.3 321.2 138.3 321.0 140.3 320.8 142.3 320.6 144.3 320.5 146.3 320.3 148.3 320.1 150.3 319.9 152.3 319.8 154.3 319.6 156.3 319.4 158.3 319.2 160.3 319.0 162.3 318.8 164.3 318.7 166.3 318.5 168.3 318.3 170.3 318.1 172.3 317.9 174.3 317.7 176.3 317.5 178.3 317.3 180.3 317.1 182.3 316.9 184.3 316.7 186.3 316.5 188.3 316.3 190.3 316.1 192.3 315.9 194.3 315.6 196.3 315.4 198.3 315.2 200.3 315.0 202.3 314.8 204.3 314.6 206.3 314.3 208.3 314.1 210.3 313.9 212.3 313.7 214.3 313.4 216.3 313.2 218.3 313.0 220.3 312.8 222.3 312.5 224.3 312.3 226.3 312.1 228.3 311.8 230.3 311.6 232.3 311.4 234.3 311.1 236.3 310.9 238.3 310.6 240.3 310.4 242.3 310.2 244.3 309.9 246.3 309.7 248.3 309.4 250.3 309.2 252.3 308.9 254.3 308.7 256.3 308.5 258.3 308.2 260.3 308.0 262.3 307.7 264.3 307.5 266.3 307.2 268.3 307.0 270.3 306.7 272.3 306.5 274.3 306.2 276.3 305.9 278.3 305.7 280.3 305.4 282.3 305.2 284.3 304.9 286.3 304.6 288.3 304.4 290.3 304.1 292.3 303.8 294.3 303.6 296.3 303.3 298.3 303.0 300.3 302.7 302.3 302.5 304.3 302.2 306.3 301.9 308.3 301.6 310.3 301.4 312.3 301.1 314.3 300.8 316.3 300.5 318.3 300.2 320.3 300.0 322.3 299.7 324.3 299.4 326.3 299.1 328.3 298.8 330.3 298.5 332.3 298.2 334.3 297.9 336.3 297.6 338.3 297.3 340.3 297.0 342.3 296.7 344.3 296.4 346.3 296.1 348.3 295.8 350.3 295.5 352.3 295.2 354.3 294.9 356.3 294.6 358.3 294.3 360.3 294.0 362.3 293.6 364.3 293.3 366.3 293.0 368.3 292.7 370.3 292.4 372.3 292.0 374.3 291.7 375.0 291.6" stroke="#28E2E5" stroke-width="1.5" fill="none" stroke-linejoin="round"/>
<path d="M122.3 329.8 124.3 329.3 126.3 328.9 128.3 328.4 130.3 327.9 132.3 327.4 134.3 326.9 136.3 326.3 138.3 325.8 140.3 325.3 142.3 324.8 144.3 324.2 146.3 323.7 148.3 323.1 150.3 322.6 152.3 322.0 154.3 321.4 156.3 320.8 158.3 320.3 160.3 319.7 162.3 319.1 164.3 318.5 166.3 317.9 168.3 317.3 170.3 316.7 172.3 316.0 174.3 315.4 176.3 314.8 178.3 314.2 180.3 313.5 182.3 312.9 184.3 312.2 186.3 311.5 188.3 310.8 190.3 310.1 192.3 309.4 194.3 308.7 196.3 308.0 198.3 307.2 200.3 306.5 202.3 305.8 204.3 305.1 206.3 304.3 208.3 303.6 210.3 302.9 212.3 302.2 214.3 301.5 216.3 300.9 218.3 300.2 220.3 299.6 222.3 298.9 224.3 298.3 226.3 297.6 228.3 296.9 230.3 296.1 232.3 295.3 234.3 294.5 236.3 293.6 238.3 292.6 240.0 291.6" stroke="#000000" stroke-width="1.5" fill="none" stroke-linejoin="round"/>
<path d="M122.3 337.2 124.3 337.1 126.3 336.9 128.3 336.8 130.3 336.7 132.3 336.6 134.3 336.4 136.3 336.3 138.3 336.2 140.3 336.0 142.3 335.9 144.3 335.8 146.3 335.6 148.3 335.5 150.3 335.4 152.3 335.2 154.3 335.1 156.3 335.0 158.3 334.8 160.3 334.7 162.3 334.6 164.3 334.4 166.3 334.3 168.3 334.2 170.3 334.0 172.3 333.9 174.3 333.8 176.3 333.6 178.3 333.5 180.3 333.3 182.3 333.2 184.3 333.1 186.3 332.9 188.3 332.8 190.3 332.7 192.3 332.5 194.3 332.4 196.3 332.2 198.3 332.1 200.3 332.0 202.3 331.8 204.3 331.7 206.3 331.5 208.3 331.4 210.3 331.3 212.3 331.1 214.3 331.0 216.3 330.8 218.3 330.7 220.3 330.6 222.3 330.4 224.3 330.3 226.3 330.1 228.3 330.0 230.3 329.9 232.3 329.7 234.3 329.6 236.3 329.4 238.3 329.3 240.3 329.2 242.3 329.0 244.3 328.9 246.3 328.7 248.3 328.6 250.3 328.5 252.3 328.3 254.3 328.2 256.3 328.0 258.3 327.8 260.3 327.7 262.3 327.5 264.3 327.3 266.3 327.1 268.3 326.9 270.3 326.8 272.3 326.6 274.3 326.4 276.3 326.2 278.3 326.0 280.3 325.8 282.3 325.6 284.3 325.4 286.3 325.2 288.3 324.9 290.3 324.7 292.3 324.5 294.3 324.3 296.3 324.1 298.3 323.8 300.3 323.6 302.3 323.4 304.3 323.2 306.3 322.9 308.3 322.7 310.3 322.4 312.3 322.2 314.3 322.0 316.3 321.7 318.3 321.5 320.3 321.2 322.3 321.0 324.3 320.7 326.3 320.5 328.3 320.2 330.3 320.0 332.3 319.7 334.3 319.5 336.3 319.2 338.3 318.9 340.3 318.7 342.3 318.4 344.3 318.1 346.3 317.9 348.3 317.6 350.3 317.3 352.3 317.0 354.3 316.7 356.3 316.4 358.3 316.1 360.3 315.8 362.3 315.5 364.3 315.2 366.3 314.9 368.3 314.6 370.3 314.3 372.3 314.0 374.3 313.7 376.3 313.4 378.3 313.1 380.3 312.7 382.3 312.4 384.3 312.1 386.3 311.8 388.3 311.4 390.3 311.1 392.3 310.8 394.3 310.4 396.3 310.1 398.3 309.7 400.3 309.4 402.3 309.0 404.3 308.7 406.3 308.3 408.3 308.0 410.3 307.6 412.3 307.3 414.3 306.9 416.3 306.6 418.3 306.2 420.3 305.8 422.3 305.5 424.3 305.1 426.3 304.7 428.3 304.3 430.3 303.9 432.3 303.6 434.3 303.2 436.3 302.7 438.3 302.3 440.3 301.9 442.3 301.5 444.3 301.0 446.3 300.6 448.3 300.1 450.3 299.7 452.3 299.2 454.3 298.8 456.3 298.3 458.3 297.8 460.3 297.4 462.3 296.9 464.3 296.4 466.3 295.8 468.3 295.2 470.3 294.6 472.3 293.9 474.3 293.1 476.3 292.1 477.0 291.6" stroke="#000000" stroke-width="1.5" fill="none" stroke-linejoin="round"/>
<path d="M122.3 348.1 124.3 348.0 126.3 347.8 128.3 347.7 130.3 347.5 132.3 347.4 134.3 347.2 136.3 347.1 138.3 347.0 140.3 346.8 142.3 346.7 144.3 346.6 146.3 346.4 148.3 346.3 150.3 346.2 152.3 346.0 154.3 345.9 156.3 345.8 158.3 345.7 160.3 345.5 162.3 345.4 164.3 345.3 166.3 345.2 168.3 345.1 170.3 345.0 172.3 344.8 174.3 344.7 176.3 344.6 178.3 344.5 180.3 344.4 182.3 344.3 184.3 344.2 186.3 344.2 188.3 344.1 190.3 344.0 192.3 343.9 194.3 343.8 196.3 343.7 198.3 343.7 200.3 343.6 202.3 343.5 204.3 343.5 206.3 343.4 208.3 343.4 210.3 343.3 212.3 343.3 214.3 343.2 216.3 343.2 218.3 343.1 220.3 343.1 222.3 343.0 224.3 343.0 226.3 343.0 228.3 342.9 230.3 342.9 232.3 342.8 234.3 342.8 236.3 342.8 238.3 342.7 240.3 342.7 242.3 342.7 244.3 342.6 246.3 342.6 248.3 342.6 250.3 342.6 252.3 342.5 254.3 342.5 256.3 342.5 258.3 342.4 260.3 342.4 262.3 342.4 264.3 342.4 266.3 342.3 268.3 342.3 270.3 342.3 272.3 342.2 274.3 342.2 276.3 342.2 278.3 342.1 280.3 342.1 282.3 342.1 284.3 342.0 286.3 342.0 288.3 342.0 290.3 341.9 292.3 341.9 294.3 341.8 296.3 341.8 298.3 341.7 300.3 341.7 302.3 341.6 304.3 341.6 306.3 341.5 308.3 341.5 310.3 341.4 312.3 341.3 314.3 341.3 316.3 341.2 318.3 341.1 320.3 341.0 322.3 340.9 324.3 340.8 326.3 340.7 328.3 340.6 330.3 340.5 332.3 340.4 334.3 340.3 336.3 340.1 338.3 340.0 340.3 339.9 342.3 339.7 344.3 339.6 346.3 339.4 348.3 339.2 350.3 339.1 352.3 338.9 354.3 338.7 356.3 338.5 358.3 338.4 360.3 338.2 362.3 338.0 364.3 337.8 366.3 337.6 368.3 337.4 370.3 337.2 372.3 336.9 374.3 336.7 376.3 336.4 378.3 336.1 380.3 335.8 382.3 335.5 384.3 335.2 386.3 334.8 388.3 334.5 390.3 334.1 392.3 333.7 394.3 333.4 396.3 333.0 398.3 332.6 400.3 332.2 402.3 331.8 404.3 331.4 406.3 331.1 408.3 330.7 410.3 330.3 412.3 330.0 414.3 329.6 416.3 329.2 418.3 328.9 420.3 328.5 422.3 328.1 424.3 327.7 426.3 327.4 428.3 327.0 430.3 326.6 432.3 326.1 434.3 325.7 436.3 325.3 438.3 324.8 440.3 324.3 442.3 323.8 444.3 323.3 446.3 322.8 448.3 322.3 450.3 321.8 452.3 321.2 454.3 320.7 456.3 320.1 458.3 319.5 460.3 318.9 462.3 318.3 464.3 317.7 466.3 317.0 468.3 316.3 470.3 315.6 472.3 314.9 474.3 314.1 476.3 313.3 478.3 312.4 480.3 311.5 482.3 310.6 484.3 309.6 486.3 308.7 488.3 307.7 490.3 306.7 492.3 305.6 494.3 304.6 496.3 303.6 498.3 302.6 500.3 301.8 502.3 301.0 504.3 300.2 506.3 299.3 508.3 298.4 510.3 297.2 512.3 295.8 514.3 294.1 516.0 291.6" stroke="#000000" stroke-width="1.5" fill="none" stroke-linejoin="round"/>
<path d="M122.3 363.5 124.3 363.5 126.3 363.5 128.3 363.5 130.3 363.5 132.3 363.5 134.3 363.5 136.3 363.4 138.3 363.4 140.3 363.4 142.3 363.4 144.3 363.3 146.3 363.3 148.3 363.3 150.3 363.3 152.3 363.2 154.3 363.2 156.3 363.2 158.3 363.1 160.3 363.1 162.3 363.0 164.3 363.0 166.3 362.9 168.3 362.9 170.3 362.9 172.3 362.8 174.3 362.8 176.3 362.7 178.3 362.6 180.3 362.5 182.3 362.4 184.3 362.3 186.3 362.1 188.3 361.9 190.3 361.7 192.3 361.4 194.3 361.2 196.3 360.9 198.3 360.6 200.3 360.3 202.3 360.0 204.3 359.6 206.3 359.3 208.3 359.0 210.3 358.6 212.3 358.2 214.3 357.9 216.3 357.5 218.3 357.2 220.3 356.8 222.3 356.4 224.3 356.1 226.3 355.7 228.3 355.4 230.3 355.1 232.3 354.8 234.3 354.5 236.3 354.2 238.3 353.9 240.3 353.6 242.3 353.4 244.3 353.2 246.3 353.0 248.3 352.8 250.3 352.6 252.3 352.4 254.3 352.3 256.3 352.1 258.3 352.0 260.3 351.8 262.3 351.7 264.3 351.6 266.3 351.4 268.3 351.3 270.3 351.2 272.3 351.1 274.3 350.9 276.3 350.8 278.3 350.7 280.3 350.5 282.3 350.4 284.3 350.2 286.3 350.1 288.3 349.9 290.3 349.7 292.3 349.5 294.3 349.3 296.3 349.1 298.3 348.8 300.3 348.6 302.3 348.3 304.3 347.9 306.3 347.5 308.3 347.1 310.3 346.6 312.3 346.0 314.3 345.5 316.3 344.9 318.3 344.3 320.3 343.7 322.3 343.0 324.3 342.4 326.3 341.7 328.3 341.1 330.3 340.4 332.3 339.8 334.3 339.1 336.3 338.5 338.3 337.8 340.3 337.1 342.3 336.4 344.3 335.7 346.3 335.0 348.3 334.2 350.3 333.5 352.3 332.8 354.3 332.0 356.3 331.3 358.3 330.5 360.3 329.8 362.3 329.1 364.3 328.4 366.3 327.7 368.3 327.1 370.3 326.5 372.3 325.8 374.3 325.2 376.3 324.7 378.3 324.1 380.3 323.5 382.3 322.9 384.3 322.3 386.3 321.7 388.3 321.1 390.3 320.4 392.3 319.8 394.3 319.1 396.3 318.3 398.3 317.6 400.3 316.8 402.3 315.9 404.3 315.0 406.3 314.0 408.3 313.0 410.3 311.9 412.3 310.7 414.3 309.4 416.3 308.1 418.3 306.7 420.3 305.3 422.3 303.8 424.3 302.2 426.3 300.6 428.3 299.0 430.3 297.4 432.3 295.8 434.3 292.4 434.5 291.6" stroke="#61D04F" stroke-width="1.5" fill="none" stroke-linejoin="round"/>
<path d="M122.3 365.4 124.3 365.4 126.3 365.4 128.3 365.3 130.3 365.3 132.3 365.3 134.3 365.3 136.3 365.3 138.3 365.2 140.3 365.2 142.3 365.2 144.3 365.2 146.3 365.2 148.3 365.2 150.3 365.1 152.3 365.1 154.3 365.1 156.3 365.1 158.3 365.1 160.3 365.0 162.3 365.0 164.3 365.0 166.3 365.0 168.3 365.0 170.3 365.0 172.3 365.0 174.3 364.9 176.3 364.9 178.3 364.9 180.3 364.9 182.3 364.9 184.3 364.9 186.3 364.8 188.3 364.8 190.3 364.8 192.3 364.8 194.3 364.8 196.3 364.8 198.3 364.8 200.3 364.8 202.3 364.7 204.3 364.7 206.3 364.7 208.3 364.7 210.3 364.7 212.3 364.7 214.3 364.7 216.3 364.7 218.3 364.7 220.3 364.6 222.3 364.6 224.3 364.6 226.3 364.6 228.3 364.6 230.3 364.6 232.3 364.6 234.3 364.6 236.3 364.6 238.3 364.6 240.3 364.6 242.3 364.6 244.3 364.6 246.3 364.5 248.3 364.5 250.3 364.5 252.3 364.5 254.3 364.5 256.3 364.5 258.3 364.5 260.3 364.5 262.3 364.5 264.3 364.5 266.3 364.5 268.3 364.5 270.3 364.5 272.3 364.5 274.3 364.5 276.3 364.5 278.3 364.5 280.3 364.5 282.3 364.5 284.3 364.5 286.3 364.5 288.3 364.4 290.3 364.4 292.3 364.4 294.3 364.4 296.3 364.4 298.3 364.4 300.3 364.4 302.3 364.4 304.3 364.4 306.3 364.4 308.3 364.4 310.3 364.3 312.3 364.3 314.3 364.3 316.3 364.3 318.3 364.3 320.3 364.3 322.3 364.3 324.3 364.2 326.3 364.2 328.3 364.2 330.3 364.1 332.3 364.1 334.3 364.0 336.3 363.9 338.3 363.7 340.3 363.6 342.3 363.5 344.3 363.3 346.3 363.2 348.3 363.1 350.3 362.9 352.3 362.8 354.3 362.7 356.3 362.5 358.3 362.4 360.3 362.2 362.3 362.1 364.3 361.9 366.3 361.8 368.3 361.6 370.3 361.4 372.3 361.3 374.3 361.1 376.3 360.8 378.3 360.6 380.3 360.4 382.3 360.1 384.3 359.7 386.3 359.4 388.3 358.9 390.3 358.5 392.3 358.0 394.3 357.5 396.3 357.0 398.3 356.4 400.3 355.9 402.3 355.3 404.3 354.7 406.3 354.1 408.3 353.5 410.3 352.8 412.3 352.0 414.3 351.3 416.3 350.5 418.3 349.7 420.3 348.9 422.3 348.1 424.3 347.3 426.3 346.6 428.3 345.8 430.3 345.2 432.3 344.5 434.3 343.8 436.3 343.2 438.3 342.6 440.3 341.9 442.3 341.3 444.3 340.7 446.3 340.0 448.3 339.4 450.3 338.7 452.3 338.0 454.3 337.2 456.3 336.4 458.3 335.6 460.3 334.7 462.3 333.8 464.3 332.9 466.3 332.0 468.3 331.0 470.3 330.0 472.3 329.1 474.3 328.0 476.3 327.0 478.3 325.9 480.3 324.8 482.3 323.7 484.3 322.5 486.3 321.3 488.3 320.1 490.3 318.9 492.3 317.6 494.3 316.3 496.3 315.0 498.3 313.6 500.3 312.1 502.3 310.6 504.3 309.0 506.3 307.3 508.3 305.4 510.3 303.4 512.3 301.3 514.3 299.2 516.3 297.0 518.3 294.9 520.3 292.2 520.6 291.6" stroke="#2297E6" stroke-width="1.5" fill="none" stroke-linejoin="round"/>
<path d="M122.3 380.0 124.3 379.8 126.3 379.7 128.3 379.5 130.3 379.3 132.3 379.1 134.3 379.0 136.3 378.8 138.3 378.6 140.3 378.4 142.3 378.3 144.3 378.1 146.3 377.9 148.3 377.7 150.3 377.5 152.3 377.4 154.3 377.2 156.3 377.0 158.3 376.8 160.3 376.6 162.3 376.4 164.3 376.2 166.3 376.0 168.3 375.9 170.3 375.7 172.3 375.5 174.3 375.3 176.3 375.1 178.3 374.9 180.3 374.7 182.3 374.5 184.3 374.3 186.3 374.1 188.3 373.9 190.3 373.7 192.3 373.5 194.3 373.3 196.3 373.1 198.3 372.9 200.3 372.7 202.3 372.4 204.3 372.2 206.3 372.0 208.3 371.8 210.3 371.6 212.3 371.4 214.3 371.2 216.3 371.0 218.3 370.8 220.3 370.6 222.3 370.4 224.3 370.2 226.3 370.0 228.3 369.8 230.3 369.5 232.3 369.3 234.3 369.1 236.3 368.9 238.3 368.7 240.3 368.5 242.3 368.3 244.3 368.0 246.3 367.8 248.3 367.6 250.3 367.4 252.3 367.1 254.3 366.9 256.3 366.7 258.3 366.4 260.3 366.2 262.3 365.9 264.3 365.7 266.3 365.4 268.3 365.2 270.3 364.9 272.3 364.6 274.3 364.4 276.3 364.1 278.3 363.8 280.3 363.5 282.3 363.2 284.3 363.0 286.3 362.7 288.3 362.3 290.3 362.0 292.3 361.7 294.3 361.4 296.3 361.1 298.3 360.7 300.3 360.4 302.3 360.0 304.3 359.7 306.3 359.3 308.3 358.9 310.3 358.5 312.3 358.1 314.3 357.7 316.3 357.3 318.3 356.9 320.3 356.5 322.3 356.0 324.3 355.6 326.3 355.2 328.3 354.7 330.3 354.3 332.3 353.8 334.3 353.3 336.3 352.8 338.3 352.3 340.3 351.8 342.3 351.3 344.3 350.8 346.3 350.2 348.3 349.6 350.3 348.9 352.3 348.3 354.3 347.6 356.3 347.0 358.3 346.3 360.3 345.6 362.3 344.9 364.3 344.2 366.3 343.5 368.3 342.9 370.3 342.2 372.3 341.6 374.3 340.9 376.3 340.3 378.3 339.7 380.3 339.0 382.3 338.4 384.3 337.8 386.3 337.2 388.3 336.5 390.3 335.9 392.3 335.3 394.3 334.6 396.3 334.0 398.3 333.3 400.3 332.6 402.3 331.9 404.3 331.2 406.3 330.5 408.3 329.8 410.3 329.0 412.3 328.3 414.3 327.5 416.3 326.7 418.3 326.0 420.3 325.2 422.3 324.3 424.3 323.5 426.3 322.6 428.3 321.8 430.3 320.9 432.3 320.0 434.3 319.0 436.3 318.0 438.3 317.0 440.3 316.0 442.3 314.9 444.3 313.8 446.3 312.6 448.3 311.4 450.3 310.2 452.3 308.9 454.3 307.6 456.3 306.4 458.3 305.1 460.3 304.0 462.3 302.9 464.3 301.8 466.3 300.7 468.3 299.5 470.3 298.1 472.3 296.4 474.3 294.4 476.0 291.6" stroke="#000000" stroke-width="1.5" fill="none" stroke-linejoin="round"/>
<path d="M122.3 408.5 124.3 408.3 126.3 408.1 128.3 407.9 130.3 407.7 132.3 407.5 134.3 407.2 136.3 407.0 138.3 406.8 140.3 406.5 142.3 406.3 144.3 406.0 146.3 405.7 148.3 405.5 150.3 405.2 152.3 404.9 154.3 404.6 156.3 404.3 158.3 404.0 160.3 403.7 162.3 403.4 164.3 403.1 166.3 402.8 168.3 402.4 170.3 402.1 172.3 401.8 174.3 401.4 176.3 401.1 178.3 400.8 180.3 400.4 182.3 400.0 184.3 399.7 186.3 399.3 188.3 398.9 190.3 398.5 192.3 398.1 194.3 397.7 196.3 397.2 198.3 396.8 200.3 396.4 202.3 395.9 204.3 395.5 206.3 395.0 208.3 394.5 210.3 394.0 212.3 393.6 214.3 393.1 216.3 392.6 218.3 392.1 220.3 391.6 222.3 391.0 224.3 390.5 226.3 390.0 228.3 389.5 230.3 388.9 232.3 388.4 234.3 387.8 236.3 387.2 238.3 386.6 240.3 386.0 242.3 385.4 244.3 384.8 246.3 384.1 248.3 383.5 250.3 382.8 252.3 382.1 254.3 381.5 256.3 380.8 258.3 380.1 260.3 379.4 262.3 378.6 264.3 377.9 266.3 377.2 268.3 376.5 270.3 375.7 272.3 375.0 274.3 374.3 276.3 373.5 278.3 372.7 280.3 371.9 282.3 371.2 284.3 370.4 286.3 369.5 288.3 368.7 290.3 367.9 292.3 367.1 294.3 366.2 296.3 365.4 298.3 364.5 300.3 363.7 302.3 362.8 304.3 362.0 306.3 361.2 308.3 360.3 310.3 359.5 312.3 358.7 314.3 357.8 316.3 357.0 318.3 356.1 320.3 355.3 322.3 354.4 324.3 353.4 326.3 352.5 328.3 351.5 330.3 350.5 332.3 349.4 334.3 348.3 336.3 347.2 338.3 346.0 340.3 344.8 342.3 343.5 344.3 342.2 346.3 340.8 348.3 339.4 350.3 337.9 352.3 336.3 354.3 334.7 356.3 333.0 358.3 330.9 360.3 328.6 362.3 326.1 364.3 323.6 366.3 321.3 368.3 319.2 370.3 317.6 372.3 316.2 374.3 315.1 376.3 314.1 378.3 313.1 380.3 312.2 382.3 311.2 384.3 310.1 386.3 308.9 388.3 307.6 390.3 306.4 392.3 305.2 394.3 303.9 396.3 302.5 398.3 300.7 400.3 298.5 402.3 295.7 404.2 291.6" stroke="#DF536B" stroke-width="1.5" fill="none" stroke-linejoin="round"/>
<path d="M122.3 489.9 124.3 489.5 126.3 489.2 128.3 488.9 130.3 488.5 132.3 488.2 134.3 487.9 136.3 487.6 138.3 487.3 140.3 487.0 142.3 486.8 144.3 486.5 146.3 486.2 148.3 486.0 150.3 485.8 152.3 485.6 154.3 485.4 156.3 485.2 158.3 485.0 160.3 484.8 162.3 484.6 164.3 484.4 166.3 484.2 168.3 483.9 170.3 483.7 172.3 483.4 174.3 483.2 176.3 482.9 178.3 482.7 180.3 482.4 182.3 482.1 184.3 481.9 186.3 481.6 188.3 481.4 190.3 481.2 192.3 481.0 194.3 480.8 196.3 480.5 198.3 480.3 200.3 480.1 202.3 479.8 204.3 479.6 206.3 479.3 208.3 479.0 210.3 478.8 212.3 478.5 214.3 478.2 216.3 477.9 218.3 477.6 220.3 477.3 222.3 477.0 224.3 476.7 226.3 476.3 228.3 476.0 230.3 475.7 232.3 475.3 234.3 475.0 236.3 474.6 238.3 474.3 240.3 474.0 242.3 473.7 244.3 473.4 246.3 473.0 248.3 472.7 250.3 472.4 252.3 472.0 254.3 471.7 256.3 471.3 258.3 471.0 260.3 470.6 262.3 470.2 264.3 469.8 266.3 469.4 268.3 469.0 270.3 468.6 272.3 468.2 274.3 467.7 276.3 467.3 278.3 466.8 280.3 466.3 282.3 465.8 284.3 465.3 286.3 464.8 288.3 464.2 290.3 463.7 292.3 463.1 294.3 462.6 296.3 462.0 298.3 461.4 300.3 460.8 302.3 460.2 304.3 459.5 306.3 458.9 308.3 458.3 310.3 457.6 312.3 456.9 314.3 456.3 316.3 455.6 318.3 454.9 320.3 454.2 322.3 453.4 324.3 452.7 326.3 451.9 328.3 451.2 330.3 450.4 332.3 449.6 334.3 448.8 336.3 447.9 338.3 447.1 340.3 446.2 342.3 445.3 344.3 444.4 346.3 443.5 348.3 442.5 350.3 441.6 352.3 440.6 354.3 439.6 356.3 438.6 358.3 437.6 360.3 436.7 362.3 435.7 364.3 434.7 366.3 433.6 368.3 432.6 370.3 431.5 372.3 430.5 374.3 429.4 376.3 428.3 378.3 427.1 380.3 426.0 382.3 424.8 384.3 423.5 386.3 422.2 388.3 420.8 390.3 419.4 392.3 417.9 394.3 416.5 396.3 415.0 398.3 413.4 400.3 411.9 402.3 410.2 404.3 408.6 406.3 406.9 408.3 405.2 410.3 403.5 412.3 401.8 414.3 400.1 416.3 398.4 418.3 396.8 420.3 395.1 422.3 393.4 424.3 391.7 426.3 389.9 428.3 388.0 430.3 386.2 432.3 384.2 434.3 382.2 436.3 380.2 438.3 378.0 440.3 375.8 442.3 373.6 444.3 371.2 446.3 368.8 448.3 366.4 450.3 363.8 452.3 361.1 454.3 358.3 456.3 355.4 458.3 352.4 460.3 349.3 462.3 346.2 464.3 343.0 466.3 339.7 468.3 336.3 470.3 332.9 472.3 329.6 474.3 326.4 476.3 323.1 478.3 319.9 480.3 316.8 482.3 313.8 484.3 310.9 486.3 308.1 488.3 305.3 490.3 302.7 492.3 300.3 494.3 297.9 496.3 295.6 498.3 293.1 499.5 291.6" stroke="#2297E6" stroke-width="1.5" fill="none" stroke-linejoin="round"/>
<path d="M122.3 706.4 124.3 705.1 126.3 703.8 128.3 702.4 130.3 701.1 132.3 699.7 134.3 698.3 136.3 696.9 138.3 695.5 140.3 694.1 142.3 692.7 144.3 691.2 146.3 689.8 148.3 688.3 150.3 686.8 152.3 685.2 154.3 683.6 156.3 682.0 158.3 680.4 160.3 678.8 162.3 677.2 164.3 675.6 166.3 674.0 168.3 672.4 170.3 670.8 172.3 669.3 174.3 667.8 176.3 666.4 178.3 665.0 180.3 663.6 182.3 662.4 184.3 661.1 186.3 659.9 188.3 658.7 190.3 657.3 192.3 655.9 194.3 654.5 196.3 653.0 198.3 651.4 200.3 649.8 202.3 648.2 204.3 646.5 206.3 644.8 208.3 643.1 210.3 641.3 212.3 639.5 214.3 637.7 216.3 635.9 218.3 634.1 220.3 632.2 222.3 630.3 224.3 628.3 226.3 626.3 228.3 624.3 230.3 622.2 232.3 620.1 234.3 617.9 236.3 615.6 238.3 613.3 240.3 611.0 242.3 608.6 244.3 606.1 246.3 603.5 248.3 600.9 250.3 598.3 252.3 595.5 254.3 592.7 256.3 589.8 258.3 586.8 260.3 583.7 262.3 580.5 264.3 577.2 266.3 573.8 268.3 570.2 270.3 566.5 272.3 562.7 274.3 558.7 276.3 554.7 278.3 550.5 280.3 546.3 282.3 542.0 284.3 537.5 286.3 532.7 288.3 527.8 290.3 522.7 292.3 517.6 294.3 512.4 296.3 507.2 298.3 502.0 300.3 496.7 302.3 491.3 304.3 485.9 306.3 480.4 308.3 475.1 310.3 469.8 312.3 464.6 314.3 459.4 316.3 454.3 318.3 449.2 320.3 444.2 322.3 439.2 324.3 434.3 326.3 429.4 328.3 424.6 330.3 419.8 332.3 415.0 334.3 410.1 336.3 405.3 338.3 400.7 340.3 396.0 342.3 391.3 344.3 386.4 346.3 381.1 348.3 375.5 350.3 369.4 352.3 362.9 354.3 356.0 356.3 348.8 358.3 341.4 360.3 333.9 362.3 326.4 364.3 318.8 366.3 311.4 368.3 303.8 370.3 296.5 371.8 291.6" stroke="#DF536B" stroke-width="1.5" fill="none" stroke-linejoin="round"/>
<path d="M122.3 253.7 124.3 253.9 126.3 254.0 128.3 254.2 130.3 254.4 132.3 254.5 134.3 254.7 136.3 254.9 138.3 255.0 140.3 255.2 142.3 255.3 144.3 255.5 146.3 255.6 148.3 255.8 150.3 255.9 152.3 256.1 154.3 256.2 156.3 256.3 158.3 256.5 160.3 256.6 162.3 256.7 164.3 256.8 166.3 256.9 168.3 257.1 170.3 257.2 172.3 257.3 174.3 257.4 176.3 257.5 178.3 257.6 180.3 257.7 182.3 257.8 184.3 258.0 186.3 258.1 188.3 258.2 190.3 258.3 192.3 258.4 194.3 258.6 196.3 258.7 198.3 258.8 200.3 259.0 202.3 259.1 204.3 259.2 206.3 259.4 208.3 259.6 210.3 259.7 212.3 259.9 214.3 260.1 216.3 260.2 218.3 260.4 220.3 260.6 222.3 260.8 224.3 261.0 226.3 261.2 228.3 261.3 230.3 261.5 232.3 261.7 234.3 262.0 236.3 262.2 238.3 262.4 240.3 262.6 242.3 262.8 244.3 263.0 246.3 263.3 248.3 263.5 250.3 263.7 252.3 263.9 254.3 264.2 256.3 264.4 258.3 264.7 260.3 264.9 262.3 265.2 264.3 265.4 266.3 265.7 268.3 266.0 270.3 266.2 272.3 266.5 274.3 266.8 276.3 267.1 278.3 267.4 280.3 267.7 282.3 268.1 284.3 268.4 286.3 268.7 288.3 269.0 290.3 269.3 292.3 269.7 294.3 270.0 296.3 270.3 298.3 270.7 300.3 271.0 302.3 271.3 304.3 271.7 306.3 272.0 308.3 272.3 310.3 272.7 312.3 273.0 314.3 273.4 316.3 273.8 318.3 274.2 320.3 274.5 322.3 274.9 324.3 275.3 326.3 275.7 328.3 276.0 330.3 276.4 332.3 276.7 334.3 277.0 336.3 277.4 338.3 277.7 340.3 278.0 342.3 278.2 344.3 278.5 346.3 278.8 348.3 279.1 350.3 279.4 352.3 279.6 354.3 279.9 356.3 280.2 358.3 280.6 360.3 280.9 362.3 281.2 364.3 281.6 366.3 282.0 368.3 282.4 370.3 282.8 372.3 283.2 374.3 283.7 376.3 284.1 378.3 284.6 380.3 285.1 382.3 285.7 384.3 286.3 386.3 286.9 388.3 287.6 390.3 288.4 392.3 289.4 394.3 290.6 396.0 291.6" stroke="#000000" stroke-width="1.5" fill="none" stroke-linejoin="round"/>
<path d="M122.3 247.4 124.3 247.4 126.3 247.4 128.3 247.4 130.3 247.5 132.3 247.5 134.3 247.5 136.3 247.5 138.3 247.5 140.3 247.5 142.3 247.5 144.3 247.6 146.3 247.6 148.3 247.6 150.3 247.6 152.3 247.6 154.3 247.6 156.3 247.6 158.3 247.7 160.3 247.7 162.3 247.7 164.3 247.7 166.3 247.7 168.3 247.7 170.3 247.7 172.3 247.8 174.3 247.8 176.3 247.8 178.3 247.8 180.3 247.8 182.3 247.8 184.3 247.8 186.3 247.8 188.3 247.8 190.3 247.9 192.3 247.9 194.3 247.9 196.3 247.9 198.3 247.9 200.3 247.9 202.3 247.9 204.3 247.9 206.3 247.9 208.3 248.0 210.3 248.0 212.3 248.0 214.3 248.0 216.3 248.0 218.3 248.0 220.3 248.0 222.3 248.0 224.3 248.0 226.3 248.0 228.3 248.0 230.3 248.0 232.3 248.1 234.3 248.1 236.3 248.1 238.3 248.1 240.3 248.1 242.3 248.1 244.3 248.1 246.3 248.1 248.3 248.1 250.3 248.1 252.3 248.1 254.3 248.1 256.3 248.1 258.3 248.1 260.3 248.1 262.3 248.1 264.3 248.1 266.3 248.2 268.3 248.2 270.3 248.2 272.3 248.2 274.3 248.2 276.3 248.2 278.3 248.2 280.3 248.2 282.3 248.2 284.3 248.2 286.3 248.2 288.3 248.2 290.3 248.2 292.3 248.2 294.3 248.2 296.3 248.2 298.3 248.2 300.3 248.2 302.3 248.2 304.3 248.2 306.3 248.2 308.3 248.2 310.3 248.2 312.3 248.2 314.3 248.2 316.3 248.2 318.3 248.3 320.3 248.3 322.3 248.3 324.3 248.3 326.3 248.3 328.3 248.3 330.3 248.3 332.3 248.3 334.3 248.3 336.3 248.4 338.3 248.4 340.3 248.4 342.3 248.5 344.3 248.5 346.3 248.6 348.3 248.7 350.3 248.7 352.3 248.8 354.3 248.9 356.3 249.0 358.3 249.0 360.3 249.1 362.3 249.2 364.3 249.3 366.3 249.4 368.3 249.5 370.3 249.6 372.3 249.7 374.3 249.8 376.3 249.9 378.3 250.0 380.3 250.1 382.3 250.3 384.3 250.4 386.3 250.5 388.3 250.6 390.3 250.7 392.3 250.8 394.3 250.9 396.3 251.0 398.3 251.1 400.3 251.2 402.3 251.3 404.3 251.4 406.3 251.5 408.3 251.7 410.3 251.8 412.3 251.9 414.3 252.0 416.3 252.2 418.3 252.3 420.3 252.4 422.3 252.6 424.3 252.7 426.3 252.9 428.3 253.0 430.3 253.2 432.3 253.3 434.3 253.5 436.3 253.6 438.3 253.8 440.3 254.0 442.3 254.2 444.3 254.4 446.3 254.6 448.3 254.8 450.3 255.0 452.3 255.2 454.3 255.4 456.3 255.6 458.3 255.8 460.3 256.0 462.3 256.3 464.3 256.5 466.3 256.6 468.3 256.8 470.3 257.0 472.3 257.2 474.3 257.4 476.3 257.5 478.3 257.7 480.3 257.9 482.3 258.0 484.3 258.2 486.3 258.3 488.3 258.5 490.3 258.6 492.3 258.7 494.3 258.8 496.3 258.9 498.3 259.0 500.3 259.0 502.3 259.1 504.3 259.2 506.3 259.2 508.3 259.3 510.3 259.3 512.3 259.4 514.3 259.5 516.3 259.5 518.3 259.6 520.3 259.6 522.3 259.7 524.3 259.8 526.3 259.9 528.3 259.9 530.3 260.0 532.3 260.2 534.3 260.3 536.3 260.4 538.3 260.6 540.3 260.7 542.3 260.9 544.3 261.1 546.3 261.3 548.3 261.5 550.3 261.7 552.3 262.0 554.3 262.2 556.3 262.5 558.3 262.7 560.3 263.0 562.3 263.3 564.3 263.7 566.3 264.1 568.3 264.5 570.3 264.9 572.3 265.4 574.3 265.8 576.3 266.3 578.3 266.8 580.3 267.4 582.3 267.9 584.3 268.4 586.3 268.9 588.3 269.5 590.3 270.0 592.3 270.5 594.3 271.0 596.3 271.5 598.3 272.0 600.3 272.5 602.3 272.9 604.3 273.3 606.3 273.8 608.3 274.2 610.3 274.8 612.3 275.4 614.3 276.0 616.3 276.7 618.3 277.4 620.3 278.2 622.3 278.9 624.3 279.7 626.3 280.5 628.3 281.3 630.3 282.1 632.3 282.9 634.3 283.8 636.3 284.6 638.3 285.5 640.3 286.4 642.3 287.3 644.3 288.2 646.3 289.2 648.3 290.1 650.3 291.1 651.3 291.6" stroke="#000000" stroke-width="1.5" fill="none" stroke-linejoin="round"/>
<path d="M122.3 172.0 124.3 173.4 126.3 174.8 128.3 176.2 130.3 177.6 132.3 179.0 134.3 180.4 136.3 181.8 138.3 183.2 140.3 184.6 142.3 185.9 144.3 187.2 146.3 188.6 148.3 189.9 150.3 191.4 152.3 192.9 154.3 194.6 156.3 196.4 158.3 198.5 160.3 200.7 162.3 202.9 164.3 205.2 166.3 207.5 168.3 209.8 170.3 212.2 172.3 214.7 174.3 217.2 176.3 220.0 178.3 222.8 180.3 225.8 182.3 228.8 184.3 232.0 186.3 235.4 188.3 238.8 190.3 242.5 192.3 246.5 194.3 251.0 196.3 255.8 198.3 260.6 200.3 265.3 202.3 269.6 204.3 273.5 206.3 277.1 208.3 280.6 210.3 284.2 212.3 288.0 214.0 291.6" stroke="#61D04F" stroke-width="1.5" fill="none" stroke-linejoin="round"/>
<path d="M122.3 194.5 124.3 194.8 126.3 195.1 128.3 195.4 130.3 195.7 132.3 196.0 134.3 196.2 136.3 196.5 138.3 196.8 140.3 197.1 142.3 197.4 144.3 197.7 146.3 198.0 148.3 198.3 150.3 198.6 152.3 198.9 154.3 199.2 156.3 199.5 158.3 199.8 160.3 200.1 162.3 200.4 164.3 200.6 166.3 200.9 168.3 201.2 170.3 201.5 172.3 201.8 174.3 202.1 176.3 202.4 178.3 202.7 180.3 203.0 182.3 203.3 184.3 203.6 186.3 203.9 188.3 204.2 190.3 204.5 192.3 204.8 194.3 205.1 196.3 205.4 198.3 205.7 200.3 206.0 202.3 206.2 204.3 206.5 206.3 206.8 208.3 207.1 210.3 207.4 212.3 207.7 214.3 208.0 216.3 208.3 218.3 208.6 220.3 208.9 222.3 209.2 224.3 209.5 226.3 209.8 228.3 210.1 230.3 210.4 232.3 210.7 234.3 211.0 236.3 211.3 238.3 211.6 240.3 211.9 242.3 212.2 244.3 212.6 246.3 212.9 248.3 213.2 250.3 213.5 252.3 213.8 254.3 214.1 256.3 214.3 258.3 214.6 260.3 214.9 262.3 215.2 264.3 215.5 266.3 215.8 268.3 216.1 270.3 216.4 272.3 216.7 274.3 217.1 276.3 217.4 278.3 217.8 280.3 218.1 282.3 218.5 284.3 218.9 286.3 219.3 288.3 219.8 290.3 220.2 292.3 220.7 294.3 221.3 296.3 221.9 298.3 222.5 300.3 223.2 302.3 223.9 304.3 224.6 306.3 225.4 308.3 226.1 310.3 226.9 312.3 227.7 314.3 228.6 316.3 229.4 318.3 230.2 320.3 231.1 322.3 231.9 324.3 232.8 326.3 233.6 328.3 234.4 330.3 235.2 332.3 236.0 334.3 236.9 336.3 237.7 338.3 238.5 340.3 239.4 342.3 240.3 344.3 241.1 346.3 242.0 348.3 242.9 350.3 243.8 352.3 244.7 354.3 245.6 356.3 246.5 358.3 247.4 360.3 248.2 362.3 249.1 364.3 250.0 366.3 250.8 368.3 251.7 370.3 252.5 372.3 253.3 374.3 254.1 376.3 254.9 378.3 255.7 380.3 256.5 382.3 257.2 384.3 258.0 386.3 258.8 388.3 259.6 390.3 260.4 392.3 261.2 394.3 262.0 396.3 262.9 398.3 263.8 400.3 264.7 402.3 265.6 404.3 266.5 406.3 267.4 408.3 268.4 410.3 269.3 412.3 270.3 414.3 271.3 416.3 272.3 418.3 273.3 420.3 274.4 422.3 275.5 424.3 276.6 426.3 277.7 428.3 278.8 430.3 279.8 432.3 280.9 434.3 281.9 436.3 282.9 438.3 283.9 440.3 284.8 442.3 285.7 444.3 286.6 446.3 287.5 448.3 288.4 450.3 289.3 452.3 290.3 454.3 291.2 455.0 291.6" stroke="#CD0BBC" stroke-width="1.5" fill="none" stroke-linejoin="round"/>
<path d="M122.3 203.6 124.3 203.7 126.3 203.8 128.3 204.0 130.3 204.1 132.3 204.2 134.3 204.3 136.3 204.5 138.3 204.6 140.3 204.7 142.3 204.9 144.3 205.0 146.3 205.2 148.3 205.3 150.3 205.4 152.3 205.6 154.3 205.7 156.3 205.9 158.3 206.0 160.3 206.2 162.3 206.3 164.3 206.5 166.3 206.6 168.3 206.8 170.3 207.0 172.3 207.1 174.3 207.3 176.3 207.4 178.3 207.6 180.3 207.8 182.3 207.9 184.3 208.1 186.3 208.3 188.3 208.4 190.3 208.6 192.3 208.8 194.3 209.0 196.3 209.2 198.3 209.3 200.3 209.5 202.3 209.7 204.3 209.9 206.3 210.1 208.3 210.3 210.3 210.5 212.3 210.7 214.3 210.9 216.3 211.1 218.3 211.3 220.3 211.5 222.3 211.7 224.3 211.9 226.3 212.1 228.3 212.3 230.3 212.5 232.3 212.8 234.3 213.0 236.3 213.2 238.3 213.4 240.3 213.6 242.3 213.8 244.3 214.1 246.3 214.3 248.3 214.5 250.3 214.7 252.3 215.0 254.3 215.2 256.3 215.4 258.3 215.6 260.3 215.9 262.3 216.1 264.3 216.3 266.3 216.6 268.3 216.8 270.3 217.1 272.3 217.3 274.3 217.5 276.3 217.8 278.3 218.0 280.3 218.3 282.3 218.5 284.3 218.8 286.3 219.1 288.3 219.3 290.3 219.6 292.3 219.9 294.3 220.1 296.3 220.4 298.3 220.7 300.3 221.0 302.3 221.2 304.3 221.5 306.3 221.8 308.3 222.1 310.3 222.4 312.3 222.7 314.3 223.0 316.3 223.3 318.3 223.6 320.3 223.9 322.3 224.3 324.3 224.6 326.3 225.0 328.3 225.4 330.3 225.9 332.3 226.4 334.3 226.9 336.3 227.5 338.3 228.1 340.3 228.8 342.3 229.5 344.3 230.2 346.3 231.0 348.3 231.8 350.3 232.6 352.3 233.4 354.3 234.2 356.3 235.0 358.3 235.9 360.3 236.7 362.3 237.5 364.3 238.3 366.3 239.1 368.3 239.8 370.3 240.6 372.3 241.3 374.3 242.0 376.3 242.7 378.3 243.4 380.3 244.1 382.3 244.8 384.3 245.4 386.3 246.1 388.3 246.8 390.3 247.5 392.3 248.2 394.3 249.0 396.3 249.7 398.3 250.5 400.3 251.3 402.3 252.1 404.3 252.9 406.3 253.7 408.3 254.6 410.3 255.5 412.3 256.5 414.3 257.4 416.3 258.4 418.3 259.4 420.3 260.4 422.3 261.4 424.3 262.4 426.3 263.4 428.3 264.4 430.3 265.5 432.3 266.6 434.3 267.6 436.3 268.7 438.3 269.9 440.3 271.0 442.3 272.1 444.3 273.2 446.3 274.3 448.3 275.4 450.3 276.6 452.3 277.8 454.3 279.0 456.3 280.4 458.3 281.8 460.3 283.2 462.3 284.7 464.3 286.5 466.3 288.5 468.3 291.2 468.6 291.6" stroke="#DF536B" stroke-width="1.5" fill="none" stroke-linejoin="round"/>
<path d="M122.3 184.0 124.3 184.2 126.3 184.4 128.3 184.5 130.3 184.7 132.3 184.9 134.3 185.1 136.3 185.3 138.3 185.5 140.3 185.7 142.3 185.9 144.3 186.1 146.3 186.3 148.3 186.5 150.3 186.8 152.3 187.0 154.3 187.2 156.3 187.4 158.3 187.7 160.3 187.9 162.3 188.1 164.3 188.4 166.3 188.6 168.3 188.9 170.3 189.1 172.3 189.4 174.3 189.6 176.3 189.9 178.3 190.1 180.3 190.4 182.3 190.6 184.3 190.9 186.3 191.2 188.3 191.5 190.3 191.7 192.3 192.1 194.3 192.4 196.3 192.7 198.3 193.0 200.3 193.4 202.3 193.7 204.3 194.1 206.3 194.4 208.3 194.8 210.3 195.1 212.3 195.5 214.3 195.9 216.3 196.2 218.3 196.6 220.3 196.9 222.3 197.3 224.3 197.6 226.3 198.0 228.3 198.3 230.3 198.6 232.3 198.9 234.3 199.2 236.3 199.5 238.3 199.8 240.3 200.1 242.3 200.3 244.3 200.6 246.3 200.8 248.3 201.0 250.3 201.2 252.3 201.4 254.3 201.6 256.3 201.8 258.3 201.9 260.3 202.1 262.3 202.2 264.3 202.4 266.3 202.5 268.3 202.7 270.3 202.8 272.3 203.0 274.3 203.1 276.3 203.3 278.3 203.4 280.3 203.6 282.3 203.7 284.3 203.9 286.3 204.0 288.3 204.2 290.3 204.4 292.3 204.5 294.3 204.7 296.3 204.9 298.3 205.1 300.3 205.3 302.3 205.5 304.3 205.7 306.3 206.0 308.3 206.2 310.3 206.5 312.3 206.8 314.3 207.1 316.3 207.4 318.3 207.8 320.3 208.1 322.3 208.4 324.3 208.8 326.3 209.2 328.3 209.6 330.3 210.0 332.3 210.4 334.3 210.8 336.3 211.2 338.3 211.7 340.3 212.2 342.3 212.7 344.3 213.2 346.3 213.7 348.3 214.3 350.3 214.8 352.3 215.4 354.3 215.9 356.3 216.4 358.3 217.0 360.3 217.5 362.3 218.1 364.3 218.7 366.3 219.3 368.3 219.8 370.3 220.4 372.3 221.0 374.3 221.7 376.3 222.3 378.3 222.9 380.3 223.6 382.3 224.3 384.3 224.9 386.3 225.6 388.3 226.3 390.3 227.1 392.3 227.8 394.3 228.5 396.3 229.3 398.3 230.1 400.3 230.9 402.3 231.7 404.3 232.6 406.3 233.5 408.3 234.4 410.3 235.4 412.3 236.4 414.3 237.4 416.3 238.5 418.3 239.7 420.3 240.9 422.3 242.1 424.3 243.4 426.3 244.8 428.3 246.2 430.3 247.7 432.3 249.3 434.3 251.1 436.3 253.0 438.3 254.9 440.3 256.8 442.3 258.6 444.3 260.4 446.3 262.2 448.3 264.0 450.3 265.8 452.3 267.6 454.3 269.4 456.3 271.2 458.3 273.0 460.3 274.8 462.3 276.7 464.3 278.5 466.3 280.3 468.3 282.1 470.3 283.8 472.3 285.5 474.3 287.2 476.3 288.9 478.3 290.6 479.4 291.6" stroke="#28E2E5" stroke-width="1.5" fill="none" stroke-linejoin="round"/>
<path d="M122.3 132.8 124.3 132.8 126.3 132.9 128.3 132.9 130.3 133.0 132.3 133.0 134.3 133.1 136.3 133.2 138.3 133.2 140.3 133.3 142.3 133.4 144.3 133.5 146.3 133.6 148.3 133.6 150.3 133.7 152.3 133.8 154.3 133.9 156.3 134.1 158.3 134.2 160.3 134.3 162.3 134.4 164.3 134.5 166.3 134.6 168.3 134.8 170.3 134.9 172.3 135.0 174.3 135.1 176.3 135.3 178.3 135.4 180.3 135.5 182.3 135.7 184.3 135.8 186.3 135.9 188.3 136.1 190.3 136.3 192.3 136.4 194.3 136.6 196.3 136.8 198.3 137.0 200.3 137.2 202.3 137.4 204.3 137.6 206.3 137.8 208.3 138.1 210.3 138.3 212.3 138.5 214.3 138.8 216.3 139.0 218.3 139.3 220.3 139.5 222.3 139.8 224.3 140.0 226.3 140.3 228.3 140.5 230.3 140.8 232.3 141.0 234.3 141.3 236.3 141.6 238.3 141.8 240.3 142.1 242.3 142.3 244.3 142.6 246.3 142.8 248.3 143.1 250.3 143.3 252.3 143.5 254.3 143.8 256.3 144.0 258.3 144.3 260.3 144.5 262.3 144.8 264.3 145.0 266.3 145.3 268.3 145.5 270.3 145.8 272.3 146.1 274.3 146.3 276.3 146.6 278.3 146.9 280.3 147.2 282.3 147.5 284.3 147.8 286.3 148.1 288.3 148.4 290.3 148.7 292.3 149.1 294.3 149.4 296.3 149.8 298.3 150.2 300.3 150.5 302.3 150.9 304.3 151.3 306.3 151.7 308.3 152.1 310.3 152.5 312.3 153.0 314.3 153.4 316.3 153.9 318.3 154.3 320.3 154.8 322.3 155.3 324.3 155.8 326.3 156.3 328.3 156.8 330.3 157.3 332.3 157.8 334.3 158.3 336.3 158.9 338.3 159.5 340.3 160.1 342.3 160.7 344.3 161.4 346.3 162.0 348.3 162.7 350.3 163.4 352.3 164.1 354.3 164.8 356.3 165.5 358.3 166.3 360.3 167.0 362.3 167.8 364.3 168.5 366.3 169.3 368.3 170.0 370.3 170.8 372.3 171.6 374.3 172.3 376.3 173.1 378.3 173.9 380.3 174.6 382.3 175.4 384.3 176.2 386.3 176.9 388.3 177.7 390.3 178.5 392.3 179.3 394.3 180.1 396.3 180.9 398.3 181.7 400.3 182.5 402.3 183.3 404.3 184.2 406.3 185.0 408.3 185.9 410.3 186.8 412.3 187.7 414.3 188.6 416.3 189.5 418.3 190.4 420.3 191.4 422.3 192.4 424.3 193.4 426.3 194.4 428.3 195.4 430.3 196.4 432.3 197.5 434.3 198.5 436.3 199.6 438.3 200.7 440.3 201.9 442.3 203.0 444.3 204.2 446.3 205.4 448.3 206.6 450.3 207.9 452.3 209.1 454.3 210.4 456.3 211.8 458.3 213.1 460.3 214.5 462.3 216.0 464.3 217.4 466.3 218.9 468.3 220.5 470.3 222.1 472.3 223.7 474.3 225.4 476.3 227.1 478.3 228.9 480.3 230.7 482.3 232.6 484.3 234.5 486.3 236.6 488.3 238.7 490.3 240.8 492.3 243.1 494.3 245.4 496.3 247.7 498.3 250.1 500.3 252.6 502.3 255.2 504.3 257.8 506.3 260.6 508.3 263.4 510.3 266.2 512.3 269.1 514.3 272.1 516.3 275.1 518.3 278.2 520.3 281.4 522.3 284.7 524.3 288.1 526.3 291.6" stroke="#DF536B" stroke-width="1.5" fill="none" stroke-linejoin="round"/>
<path d="M122.3 72.0 124.3 72.0 126.3 72.1 128.3 72.2 130.3 72.2 132.3 72.3 134.3 72.4 136.3 72.4 138.3 72.5 140.3 72.6 142.3 72.7 144.3 72.8 146.3 72.8 148.3 72.9 150.3 73.0 152.3 73.1 154.3 73.2 156.3 73.3 158.3 73.4 160.3 73.5 162.3 73.7 164.3 73.8 166.3 73.9 168.3 74.0 170.3 74.1 172.3 74.2 174.3 74.4 176.3 74.5 178.3 74.6 180.3 74.7 182.3 74.9 184.3 75.0 186.3 75.1 188.3 75.3 190.3 75.4 192.3 75.6 194.3 75.7 196.3 75.9 198.3 76.0 200.3 76.2 202.3 76.3 204.3 76.5 206.3 76.7 208.3 76.9 210.3 77.0 212.3 77.2 214.3 77.4 216.3 77.6 218.3 77.8 220.3 78.0 222.3 78.2 224.3 78.4 226.3 78.7 228.3 78.9 230.3 79.1 232.3 79.3 234.3 79.6 236.3 79.8 238.3 80.1 240.3 80.3 242.3 80.6 244.3 80.9 246.3 81.1 248.3 81.4 250.3 81.7 252.3 82.0 254.3 82.4 256.3 82.7 258.3 83.1 260.3 83.5 262.3 83.8 264.3 84.2 266.3 84.6 268.3 85.1 270.3 85.5 272.3 85.9 274.3 86.4 276.3 86.8 278.3 87.3 280.3 87.7 282.3 88.2 284.3 88.7 286.3 89.2 288.3 89.7 290.3 90.2 292.3 90.7 294.3 91.2 296.3 91.7 298.3 92.3 300.3 92.9 302.3 93.4 304.3 94.0 306.3 94.6 308.3 95.2 310.3 95.9 312.3 96.5 314.3 97.2 316.3 97.8 318.3 98.5 320.3 99.2 322.3 99.9 324.3 100.6 326.3 101.3 328.3 102.1 330.3 102.8 332.3 103.6 334.3 104.3 336.3 105.1 338.3 106.0 340.3 106.8 342.3 107.7 344.3 108.6 346.3 109.5 348.3 110.4 350.3 111.3 352.3 112.3 354.3 113.3 356.3 114.3 358.3 115.3 360.3 116.3 362.3 117.3 364.3 118.3 366.3 119.3 368.3 120.4 370.3 121.4 372.3 122.5 374.3 123.5 376.3 124.5 378.3 125.6 380.3 126.6 382.3 127.7 384.3 128.7 386.3 129.7 388.3 130.8 390.3 131.8 392.3 132.9 394.3 134.0 396.3 135.0 398.3 136.1 400.3 137.3 402.3 138.4 404.3 139.5 406.3 140.7 408.3 141.9 410.3 143.1 412.3 144.3 414.3 145.6 416.3 146.9 418.3 148.2 420.3 149.5 422.3 150.9 424.3 152.4 426.3 153.9 428.3 155.5 430.3 157.1 432.3 158.7 434.3 160.4 436.3 162.1 438.3 163.8 440.3 165.5 442.3 167.3 444.3 169.1 446.3 170.9 448.3 172.7 450.3 174.5 452.3 176.3 454.3 178.0 456.3 179.8 458.3 181.6 460.3 183.3 462.3 185.1 464.3 186.8 466.3 188.6 468.3 190.4 470.3 192.1 472.3 193.9 474.3 195.7 476.3 197.5 478.3 199.4 480.3 201.2 482.3 203.1 484.3 205.0 486.3 206.9 488.3 208.9 490.3 210.9 492.3 212.9 494.3 214.9 496.3 217.0 498.3 219.1 500.3 221.3 502.3 223.4 504.3 225.7 506.3 227.9 508.3 230.2 510.3 232.6 512.3 235.0 514.3 237.5 516.3 240.0 518.3 242.6 520.3 245.3 522.3 248.0 524.3 250.9 526.3 253.8 528.3 256.8 530.3 260.0 532.3 263.3 534.3 266.7 536.3 270.3 538.3 274.1 540.3 278.1 542.3 282.3 544.3 286.9 546.2 291.6" stroke="#CD0BBC" stroke-width="1.5" fill="none" stroke-linejoin="round"/>
<path d="M122.3 272.9 124.3 272.9 126.3 272.9 128.3 272.9 130.3 272.9 132.3 272.9 134.3 272.9 136.3 272.9 138.3 272.9 140.3 272.9 142.3 272.9 144.3 272.9 146.3 272.9 148.3 272.9 150.3 272.9 152.3 272.9 154.3 272.9 156.3 272.9 158.3 272.9 160.3 272.9 162.3 272.9 164.3 272.9 166.3 272.9 168.3 272.9 170.3 272.9 172.3 272.9 174.3 272.9 176.3 272.9 178.3 272.9 180.3 272.9 182.3 272.9 184.3 272.9 186.3 272.9 188.3 272.9 190.3 272.9 192.3 272.9 194.3 272.9 196.3 272.9 198.3 272.9 200.3 272.9 202.3 272.9 204.3 272.9 206.3 272.9 208.3 272.9 210.3 272.9 212.3 272.9 214.3 272.9 216.3 272.9 218.3 272.9 220.3 272.9 222.3 272.9 224.3 272.9 226.3 272.9 228.3 272.9 230.3 272.9 232.3 272.9 234.3 272.9 236.3 272.9 238.3 272.9 240.3 272.9 242.3 272.9 244.3 272.9 246.3 272.9 248.3 272.9 250.3 272.9 252.3 272.9 254.3 272.9 256.3 272.9 258.3 272.9 260.3 272.9 262.3 272.9 264.3 272.9 266.3 272.8 268.3 272.8 270.3 272.8 272.3 272.8 274.3 272.8 276.3 272.8 278.3 272.8 280.3 272.8 282.3 272.8 284.3 272.8 286.3 272.8 288.3 272.8 290.3 272.8 292.3 272.8 294.3 272.8 296.3 272.8 298.3 272.8 300.3 272.8 302.3 272.8 304.3 272.8 306.3 272.8 308.3 272.8 310.3 272.8 312.3 272.8 314.3 272.8 316.3 272.8 318.3 272.8 320.3 272.8 322.3 272.8 324.3 272.8 326.3 272.8 328.3 272.8 330.3 272.8 332.3 272.8 334.3 272.8 336.3 272.8 338.3 272.8 340.3 272.8 342.3 272.8 344.3 272.8 346.3 272.8 348.3 272.8 350.3 272.8 352.3 272.8 354.3 272.7 356.3 272.7 358.3 272.7 360.3 272.7 362.3 272.7 364.3 272.7 366.3 272.7 368.3 272.7 370.3 272.7 372.3 272.7 374.3 272.7 376.3 272.7 378.3 272.7 380.3 272.7 382.3 272.6 384.3 272.6 386.3 272.6 388.3 272.6 390.3 272.6 392.3 272.6 394.3 272.6 396.3 272.6 398.3 272.6 400.3 272.6 402.3 272.6 404.3 272.6 406.3 272.6 408.3 272.6 410.3 272.5 412.3 272.5 414.3 272.5 416.3 272.5 418.3 272.5 420.3 272.5 422.3 272.5 424.3 272.5 426.3 272.5 428.3 272.5 430.3 272.5 432.3 272.5 434.3 272.5 436.3 272.5 438.3 272.5 440.3 272.5 442.3 272.5 444.3 272.5 446.3 272.5 448.3 272.5 450.3 272.5 452.3 272.5 454.3 272.5 456.3 272.5 458.3 272.5 460.3 272.5 462.3 272.6 464.3 272.6 466.3 272.6 468.3 272.6 470.3 272.6 472.3 272.6 474.3 272.6 476.3 272.6 478.3 272.6 480.3 272.6 482.3 272.7 484.3 272.7 486.3 272.7 488.3 272.7 490.3 272.7 492.3 272.7 494.3 272.7 496.3 272.8 498.3 272.8 500.3 272.8 502.3 272.8 504.3 272.8 506.3 272.8 508.3 272.8 510.3 272.8 512.3 272.9 514.3 272.9 516.3 272.9 518.3 272.9 520.3 272.9 522.3 272.9 524.3 272.9 526.3 272.9 528.3 272.9 530.3 273.0 532.3 273.0 534.3 273.0 536.3 273.0 538.3 273.0 540.3 273.0 542.3 273.0 544.3 273.0 546.3 273.0 548.3 273.0 550.3 273.1 552.3 273.1 554.3 273.1 556.3 273.1 558.3 273.1 560.3 273.1 562.3 273.1 564.3 273.1 566.3 273.1 568.3 273.1 570.3 273.2 572.3 273.2 574.3 273.2 576.3 273.2 578.3 273.2 580.3 273.2 582.3 273.2 584.3 273.3 586.3 273.3 588.3 273.3 590.3 273.3 592.3 273.3 594.3 273.3 596.3 273.4 598.3 273.4 600.3 273.4 602.3 273.4 604.3 273.5 606.3 273.5 608.3 273.5 610.3 273.6 612.3 273.6 614.3 273.6 616.3 273.7 618.3 273.7 620.3 273.8 622.3 273.8 624.3 273.9 626.3 273.9 628.3 274.0 630.3 274.1 632.3 274.1 634.3 274.2 636.3 274.2 638.3 274.3 640.3 274.4 642.3 274.4 644.3 274.5 646.3 274.6 648.3 274.7 650.3 274.7 652.3 274.8 654.3 274.9 656.3 275.0 658.3 275.0 660.3 275.1 662.3 275.2 664.3 275.3 666.3 275.4 668.3 275.5 670.3 275.6 672.3 275.7 674.3 275.8 676.3 275.9 678.3 276.1 680.3 276.2 682.3 276.3 684.3 276.4 686.3 276.6 688.3 276.7 690.3 276.8 692.3 277.0 694.3 277.1 696.3 277.3 698.3 277.4 700.3 277.5 702.3 277.7 704.3 277.8 706.3 278.0 708.3 278.1 710.3 278.3 712.3 278.4 714.3 278.6 716.3 278.8 718.3 278.9 720.3 279.1 722.3 279.2 724.3 279.4 726.3 279.6 728.3 279.8 730.3 279.9 732.3 280.1 734.3 280.3 736.3 280.5 738.3 280.7 740.3 280.9 742.3 281.1 744.3 281.3 746.3 281.5 748.3 281.7 750.3 281.9 752.3 282.1 754.3 282.3 756.3 282.6 758.3 282.8 760.3 283.0 762.3 283.2 764.3 283.5 766.3 283.7 768.3 283.9 770.3 284.2 772.3 284.4 774.3 284.7 776.3 284.9 778.3 285.2 780.3 285.5 782.3 285.7 784.3 286.0 786.3 286.3 788.3 286.6 790.3 286.9 792.3 287.2 794.3 287.5 796.3 287.8 798.3 288.1 800.3 288.4 802.3 288.8 804.3 289.1 806.3 289.4 808.3 289.7 810.3 290.0 812.3 290.4 814.3 290.7 816.3 291.1 818.3 291.4 819.5 291.6" stroke="#2297E6" stroke-width="1.5" fill="none" stroke-linejoin="round"/>
<path d="M122.3 153.9 124.3 154.2 126.3 154.4 128.3 154.7 130.3 155.0 132.3 155.3 134.3 155.5 136.3 155.8 138.3 156.1 140.3 156.4 142.3 156.7 144.3 156.9 146.3 157.2 148.3 157.5 150.3 157.8 152.3 158.1 154.3 158.4 156.3 158.7 158.3 159.0 160.3 159.3 162.3 159.6 164.3 159.9 166.3 160.2 168.3 160.5 170.3 160.8 172.3 161.1 174.3 161.4 176.3 161.7 178.3 162.0 180.3 162.3 182.3 162.6 184.3 162.9 186.3 163.2 188.3 163.5 190.3 163.8 192.3 164.1 194.3 164.4 196.3 164.8 198.3 165.1 200.3 165.4 202.3 165.7 204.3 166.0 206.3 166.3 208.3 166.6 210.3 166.9 212.3 167.3 214.3 167.6 216.3 167.9 218.3 168.2 220.3 168.6 222.3 168.9 224.3 169.2 226.3 169.6 228.3 169.9 230.3 170.3 232.3 170.6 234.3 171.0 236.3 171.3 238.3 171.7 240.3 172.1 242.3 172.5 244.3 172.8 246.3 173.2 248.3 173.6 250.3 174.0 252.3 174.4 254.3 174.8 256.3 175.3 258.3 175.7 260.3 176.1 262.3 176.5 264.3 177.0 266.3 177.4 268.3 177.8 270.3 178.3 272.3 178.7 274.3 179.2 276.3 179.7 278.3 180.1 280.3 180.6 282.3 181.1 284.3 181.6 286.3 182.1 288.3 182.6 290.3 183.1 292.3 183.6 294.3 184.2 296.3 184.7 298.3 185.2 300.3 185.8 302.3 186.3 304.3 186.9 306.3 187.4 308.3 188.0 310.3 188.6 312.3 189.2 314.3 189.9 316.3 190.5 318.3 191.2 320.3 191.9 322.3 192.6 324.3 193.3 326.3 194.0 328.3 194.7 330.3 195.4 332.3 196.1 334.3 196.9 336.3 197.7 338.3 198.4 340.3 199.2 342.3 200.0 344.3 200.8 346.3 201.6 348.3 202.5 350.3 203.3 352.3 204.1 354.3 205.0 356.3 205.8 358.3 206.7 360.3 207.5 362.3 208.4 364.3 209.2 366.3 210.1 368.3 211.0 370.3 211.9 372.3 212.8 374.3 213.7 376.3 214.6 378.3 215.5 380.3 216.5 382.3 217.5 384.3 218.4 386.3 219.4 388.3 220.4 390.3 221.4 392.3 222.5 394.3 223.5 396.3 224.6 398.3 225.7 400.3 226.9 402.3 228.0 404.3 229.3 406.3 230.6 408.3 231.9 410.3 233.4 412.3 234.8 414.3 236.3 416.3 237.7 418.3 239.2 420.3 240.6 422.3 242.0 424.3 243.3 426.3 244.6 428.3 245.9 430.3 247.2 432.3 248.5 434.3 249.7 436.3 251.0 438.3 252.2 440.3 253.5 442.3 254.7 444.3 255.9 446.3 257.1 448.3 258.3 450.3 259.5 452.3 260.7 454.3 261.9 456.3 263.1 458.3 264.3 460.3 265.5 462.3 266.8 464.3 268.1 466.3 269.4 468.3 270.7 470.3 272.1 472.3 273.5 474.3 274.9 476.3 276.5 478.3 278.2 480.3 279.9 482.3 281.8 484.3 283.6 486.3 285.5 488.3 287.4 490.3 289.2 492.3 291.0 493.0 291.6" stroke="#28E2E5" stroke-width="1.5" fill="none" stroke-linejoin="round"/>
<line x1="122.3" y1="289.4" x2="160.0" y2="289.4" stroke="#61D04F" stroke-width="1.4"/>
<line x1="122.3" y1="292.0" x2="128.0" y2="292.0" stroke="#CD0BBC" stroke-width="1.6"/>
<line x1="128.0" y1="292.0" x2="142.0" y2="292.0" stroke="#DF536B" stroke-width="1.4"/>
<line x1="150.0" y1="291.3" x2="420.0" y2="291.3" stroke="#2297E6" stroke-width="2.4"/>
<line x1="330.0" y1="290.0" x2="420.0" y2="290.0" stroke="#61D04F" stroke-width="1.4"/>
<line x1="280.0" y1="288.6" x2="400.0" y2="288.6" stroke="#28E2E5" stroke-width="1.3"/>
<line x1="180.0" y1="293.3" x2="225.0" y2="293.3" stroke="#000000" stroke-width="1.3"/>
<line x1="334.0" y1="292.4" x2="424.0" y2="292.4" stroke="#000000" stroke-width="1.6"/>
<line x1="330.0" y1="294.2" x2="460.0" y2="294.2" stroke="#61D04F" stroke-width="1.2"/>
<line x1="303.0" y1="286.6" x2="470.0" y2="286.6" stroke="#000000" stroke-width="1.3"/>
<line x1="470.0" y1="291.9" x2="819.5" y2="291.9" stroke="#28E2E5" stroke-width="1.5"/>
<line x1="420.0" y1="290.3" x2="523.0" y2="290.3" stroke="#000000" stroke-width="1.4"/>
<g font-family="'Liberation Sans', Arial, sans-serif" font-size="9.2" text-anchor="end" fill="#111" stroke="#111" stroke-width="0.3"><text x="110.1" y="75.3">7</text><text x="110.1" y="136.1">50</text><text x="110.1" y="157.9">59</text><text x="110.1" y="176.3">57</text><text x="110.1" y="187.9">53</text><text x="110.1" y="197.8">48</text><text x="110.1" y="206.9">9</text><text x="110.1" y="250.5">24</text><text x="110.1" y="256.9">8</text><text x="110.1" y="340.5">36</text><text x="110.1" y="351.4">55</text><text x="110.1" y="366.6">54</text><text x="110.1" y="368.9">5</text><text x="110.1" y="383.3">30</text><text x="110.1" y="411.8">56</text><text x="110.1" y="493.0">52</text><text x="110.1" y="709.8">25</text></g>
<g font-family="'Liberation Sans', Arial, sans-serif" font-size="9.2" text-anchor="end" fill="#1a1a1a" stroke="#1a1a1a" stroke-width="0.2"><text x="110.1" y="272.3">26</text><text x="110.1" y="276.2">20</text><text x="110.1" y="278.9">12</text><text x="110.1" y="281.6">19</text><text x="110.1" y="284.3">43</text><text x="110.1" y="287.0">13</text><text x="110.1" y="289.7">22</text><text x="110.1" y="291.5">47</text><text x="110.1" y="292.7">17</text><text x="110.1" y="293.7">2</text><text x="110.1" y="294.5">3</text><text x="110.1" y="295.3">31</text><text x="110.1" y="296.1">44</text><text x="110.1" y="296.9">18</text><text x="110.1" y="297.9">39</text><text x="110.1" y="299.1">41</text><text x="110.1" y="300.5">1</text><text x="110.1" y="303.1">14</text><text x="110.1" y="305.7">4</text><text x="110.1" y="308.3">35</text><text x="110.1" y="310.9">40</text><text x="110.1" y="313.5">46</text><text x="110.1" y="316.1">10</text><text x="110.1" y="318.7">58</text><text x="110.1" y="321.3">11</text><text x="110.1" y="323.9">27</text><text x="110.1" y="326.5">33</text><text x="110.1" y="329.1">28</text><text x="110.1" y="331.7">42</text><text x="110.1" y="334.3">38</text><text x="110.1" y="336.9">45</text></g>
<g font-family="'Liberation Sans', Arial, sans-serif" font-size="9.2" text-anchor="end" fill="#000" stroke="#000" stroke-width="0.6"><text x="110.1" y="292.3">32</text><text x="110.1" y="293.9">34</text><text x="110.1" y="295.5">37</text><text x="110.1" y="297.1">60</text><text x="110.1" y="294.7">6</text><text x="110.1" y="298.5">29</text></g>
<rect x="94.10" y="47.00" width="753.40" height="685.50" fill="none" stroke="#111" stroke-width="1.6"/>
<line x1="211.00" y1="732.50" x2="211.00" y2="743.50" stroke="#111" stroke-width="1.7"/>
<text x="210.20" y="773.60" font-size="20" text-anchor="middle" font-weight="normal" font-family="'Liberation Sans', Arial, sans-serif" fill="#000">-7</text>
<line x1="332.10" y1="732.50" x2="332.10" y2="743.50" stroke="#111" stroke-width="1.7"/>
<text x="331.30" y="773.60" font-size="20" text-anchor="middle" font-weight="normal" font-family="'Liberation Sans', Arial, sans-serif" fill="#000">-6</text>
<line x1="453.20" y1="732.50" x2="453.20" y2="743.50" stroke="#111" stroke-width="1.7"/>
<text x="452.40" y="773.60" font-size="20" text-anchor="middle" font-weight="normal" font-family="'Liberation Sans', Arial, sans-serif" fill="#000">-5</text>
<line x1="574.30" y1="732.50" x2="574.30" y2="743.50" stroke="#111" stroke-width="1.7"/>
<text x="573.50" y="773.60" font-size="20" text-anchor="middle" font-weight="normal" font-family="'Liberation Sans', Arial, sans-serif" fill="#000">-4</text>
<line x1="695.40" y1="732.50" x2="695.40" y2="743.50" stroke="#111" stroke-width="1.7"/>
<text x="694.60" y="773.60" font-size="20" text-anchor="middle" font-weight="normal" font-family="'Liberation Sans', Arial, sans-serif" fill="#000">-3</text>
<line x1="816.50" y1="732.50" x2="816.50" y2="743.50" stroke="#111" stroke-width="1.7"/>
<text x="815.70" y="773.60" font-size="20" text-anchor="middle" font-weight="normal" font-family="'Liberation Sans', Arial, sans-serif" fill="#000">-2</text>
<line x1="211.00" y1="47.00" x2="211.00" y2="39.50" stroke="#111" stroke-width="1.7"/>
<text x="210.20" y="20.10" font-size="20" text-anchor="middle" font-weight="normal" font-family="'Liberation Sans', Arial, sans-serif" fill="#000">45</text>
<line x1="332.10" y1="47.00" x2="332.10" y2="39.50" stroke="#111" stroke-width="1.7"/>
<text x="331.30" y="20.10" font-size="20" text-anchor="middle" font-weight="normal" font-family="'Liberation Sans', Arial, sans-serif" fill="#000">37</text>
<line x1="453.20" y1="47.00" x2="453.20" y2="39.50" stroke="#111" stroke-width="1.7"/>
<text x="452.40" y="20.10" font-size="20" text-anchor="middle" font-weight="normal" font-family="'Liberation Sans', Arial, sans-serif" fill="#000">26</text>
<line x1="574.30" y1="47.00" x2="574.30" y2="39.50" stroke="#111" stroke-width="1.7"/>
<text x="573.50" y="20.10" font-size="20" text-anchor="middle" font-weight="normal" font-family="'Liberation Sans', Arial, sans-serif" fill="#000">5</text>
<line x1="695.40" y1="47.00" x2="695.40" y2="39.50" stroke="#111" stroke-width="1.7"/>
<text x="694.60" y="20.10" font-size="20" text-anchor="middle" font-weight="normal" font-family="'Liberation Sans', Arial, sans-serif" fill="#000">1</text>
<line x1="816.50" y1="47.00" x2="816.50" y2="39.50" stroke="#111" stroke-width="1.7"/>
<text x="815.70" y="20.10" font-size="20" text-anchor="middle" font-weight="normal" font-family="'Liberation Sans', Arial, sans-serif" fill="#000">1</text>
<line x1="94.10" y1="95.68" x2="82.40" y2="95.68" stroke="#111" stroke-width="1.7"/>
<text x="66.60" y="96.18" font-size="20" text-anchor="middle" font-weight="normal" font-family="'Liberation Sans', Arial, sans-serif" fill="#000" transform="rotate(-90 66.60 96.18)" letter-spacing="-1.0">0.4</text>
<line x1="94.10" y1="193.64" x2="82.40" y2="193.64" stroke="#111" stroke-width="1.7"/>
<text x="66.60" y="194.14" font-size="20" text-anchor="middle" font-weight="normal" font-family="'Liberation Sans', Arial, sans-serif" fill="#000" transform="rotate(-90 66.60 194.14)" letter-spacing="-1.0">0.2</text>
<line x1="94.10" y1="291.60" x2="82.40" y2="291.60" stroke="#111" stroke-width="1.7"/>
<text x="66.60" y="292.10" font-size="20" text-anchor="middle" font-weight="normal" font-family="'Liberation Sans', Arial, sans-serif" fill="#000" transform="rotate(-90 66.60 292.10)" letter-spacing="-1.0">0.0</text>
<line x1="94.10" y1="389.56" x2="82.40" y2="389.56" stroke="#111" stroke-width="1.7"/>
<text x="66.60" y="389.86" font-size="20" text-anchor="middle" font-weight="normal" font-family="'Liberation Sans', Arial, sans-serif" fill="#000" transform="rotate(-90 66.60 389.86)" letter-spacing="-0.6">-0.2</text>
<line x1="94.10" y1="487.52" x2="82.40" y2="487.52" stroke="#111" stroke-width="1.7"/>
<text x="66.60" y="487.82" font-size="20" text-anchor="middle" font-weight="normal" font-family="'Liberation Sans', Arial, sans-serif" fill="#000" transform="rotate(-90 66.60 487.82)" letter-spacing="-0.6">-0.4</text>
<line x1="94.10" y1="585.48" x2="82.40" y2="585.48" stroke="#111" stroke-width="1.7"/>
<text x="66.60" y="585.78" font-size="20" text-anchor="middle" font-weight="normal" font-family="'Liberation Sans', Arial, sans-serif" fill="#000" transform="rotate(-90 66.60 585.78)" letter-spacing="-0.6">-0.6</text>
<line x1="94.10" y1="683.44" x2="82.40" y2="683.44" stroke="#111" stroke-width="1.7"/>
<text x="66.60" y="683.74" font-size="20" text-anchor="middle" font-weight="normal" font-family="'Liberation Sans', Arial, sans-serif" fill="#000" transform="rotate(-90 66.60 683.74)" letter-spacing="-0.6">-0.8</text>
<text x="21.90" y="388.60" font-size="20.6" text-anchor="middle" font-weight="normal" font-family="'Liberation Sans', Arial, sans-serif" fill="#000" transform="rotate(-90 21.90 388.60)" textLength="101.5" lengthAdjust="spacingAndGlyphs">Coefficients</text>
<text x="470.00" y="820.10" font-size="20.6" text-anchor="middle" font-weight="normal" font-family="'Liberation Sans', Arial, sans-serif" fill="#000" textLength="106" lengthAdjust="spacingAndGlyphs">Log Lambda</text>
<text x="0.00" y="0.00" font-size="44" text-anchor="start" font-weight="bold" font-family="'Liberation Sans', Arial, sans-serif" fill="#000" transform="translate(6.80 36.00) scale(0.95 1)">A</text>
<path d="M1018.10 627.11V704.09M1011.10 627.11H1025.10M1011.10 704.09H1025.10M1020.34 627.23V704.17M1013.34 627.23H1027.34M1013.34 704.17H1027.34M1022.59 627.34V704.25M1015.59 627.34H1029.59M1015.59 704.25H1029.59M1024.83 627.46V704.33M1017.83 627.46H1031.83M1017.83 704.33H1031.83M1027.07 627.57V704.41M1020.07 627.57H1034.07M1020.07 704.41H1034.07M1029.32 627.68V704.48M1022.32 627.68H1036.32M1022.32 704.48H1036.32M1031.56 627.79V704.55M1024.56 627.79H1038.56M1024.56 704.55H1038.56M1033.80 627.90V704.63M1026.80 627.90H1040.80M1026.80 704.63H1040.80M1036.05 628.01V704.69M1029.05 628.01H1043.05M1029.05 704.69H1043.05M1038.29 628.11V704.76M1031.29 628.11H1045.29M1031.29 704.76H1045.29M1040.53 628.21V704.83M1033.53 628.21H1047.53M1033.53 704.83H1047.53M1042.78 628.31V704.89M1035.78 628.31H1049.78M1035.78 704.89H1049.78M1045.02 628.41V704.95M1038.02 628.41H1052.02M1038.02 704.95H1052.02M1047.26 628.51V705.01M1040.26 628.51H1054.26M1040.26 705.01H1054.26M1049.51 628.60V705.06M1042.51 628.60H1056.51M1042.51 705.06H1056.51M1051.75 628.69V705.12M1044.75 628.69H1058.75M1044.75 705.12H1058.75M1053.99 628.78V705.17M1046.99 628.78H1060.99M1046.99 705.17H1060.99M1056.24 628.86V705.22M1049.24 628.86H1063.24M1049.24 705.22H1063.24M1058.48 628.94V705.26M1051.48 628.94H1065.48M1051.48 705.26H1065.48M1060.72 629.02V705.30M1053.72 629.02H1067.72M1053.72 705.30H1067.72M1062.97 629.10V705.34M1055.97 629.10H1069.97M1055.97 705.34H1069.97M1065.21 629.17V705.38M1058.21 629.17H1072.21M1058.21 705.38H1072.21M1067.45 629.24V705.42M1060.45 629.24H1074.45M1060.45 705.42H1074.45M1069.70 629.32V705.45M1062.70 629.32H1076.70M1062.70 705.45H1076.70M1071.94 629.39V705.48M1064.94 629.39H1078.94M1064.94 705.48H1078.94M1074.19 629.45V705.52M1067.19 629.45H1081.19M1067.19 705.52H1081.19M1076.43 629.52V705.55M1069.43 629.52H1083.43M1069.43 705.55H1083.43M1078.67 629.59V705.58M1071.67 629.59H1085.67M1071.67 705.58H1085.67M1080.92 629.66V705.62M1073.92 629.66H1087.92M1073.92 705.62H1087.92M1083.16 629.73V705.65M1076.16 629.73H1090.16M1076.16 705.65H1090.16M1085.40 629.81V705.68M1078.40 629.81H1092.40M1078.40 705.68H1092.40M1087.65 629.88V705.72M1080.65 629.88H1094.65M1080.65 705.72H1094.65M1089.89 629.96V705.76M1082.89 629.96H1096.89M1082.89 705.76H1096.89M1092.13 630.04V705.80M1085.13 630.04H1099.13M1085.13 705.80H1099.13M1094.38 630.12V705.85M1087.38 630.12H1101.38M1087.38 705.85H1101.38M1096.62 630.21V705.91M1089.62 630.21H1103.62M1089.62 705.91H1103.62M1098.86 630.31V705.97M1091.86 630.31H1105.86M1091.86 705.97H1105.86M1101.11 630.42V706.04M1094.11 630.42H1108.11M1094.11 706.04H1108.11M1103.35 630.52V706.11M1096.35 630.52H1110.35M1096.35 706.11H1110.35M1105.59 630.63V706.18M1098.59 630.63H1112.59M1098.59 706.18H1112.59M1107.84 630.74V706.25M1100.84 630.74H1114.84M1100.84 706.25H1114.84M1110.08 630.85V706.33M1103.08 630.85H1117.08M1103.08 706.33H1117.08M1112.32 630.96V706.40M1105.32 630.96H1119.32M1105.32 706.40H1119.32M1114.57 631.07V706.47M1107.57 631.07H1121.57M1107.57 706.47H1121.57M1116.81 631.17V706.54M1109.81 631.17H1123.81M1109.81 706.54H1123.81M1119.05 631.27V706.60M1112.05 631.27H1126.05M1112.05 706.60H1126.05M1121.30 631.37V706.66M1114.30 631.37H1128.30M1114.30 706.66H1128.30M1123.54 631.46V706.71M1116.54 631.46H1130.54M1116.54 706.71H1130.54M1125.78 631.54V706.75M1118.78 631.54H1132.78M1118.78 706.75H1132.78M1128.03 631.61V706.79M1121.03 631.61H1135.03M1121.03 706.79H1135.03M1130.27 631.67V706.81M1123.27 631.67H1137.27M1123.27 706.81H1137.27M1132.51 631.72V706.83M1125.51 631.72H1139.51M1125.51 706.83H1139.51M1134.76 631.76V706.83M1127.76 631.76H1141.76M1127.76 706.83H1141.76M1137.00 631.78V706.82M1130.00 631.78H1144.00M1130.00 706.82H1144.00M1139.24 631.80V706.79M1132.24 631.80H1146.24M1132.24 706.79H1146.24M1141.49 631.80V706.76M1134.49 631.80H1148.49M1134.49 706.76H1148.49M1143.73 631.79V706.71M1136.73 631.79H1150.73M1136.73 706.71H1150.73M1145.97 631.78V706.66M1138.97 631.78H1152.97M1138.97 706.66H1152.97M1148.22 631.75V706.60M1141.22 631.75H1155.22M1141.22 706.60H1155.22M1150.46 631.72V706.53M1143.46 631.72H1157.46M1143.46 706.53H1157.46M1152.70 631.68V706.45M1145.70 631.68H1159.70M1145.70 706.45H1159.70M1154.95 631.63V706.37M1147.95 631.63H1161.95M1147.95 706.37H1161.95M1157.19 631.58V706.28M1150.19 631.58H1164.19M1150.19 706.28H1164.19M1159.43 631.52V706.18M1152.43 631.52H1166.43M1152.43 706.18H1166.43M1161.68 631.46V706.09M1154.68 631.46H1168.68M1154.68 706.09H1168.68M1163.92 631.39V705.98M1156.92 631.39H1170.92M1156.92 705.98H1170.92M1166.16 631.32V705.88M1159.16 631.32H1173.16M1159.16 705.88H1173.16M1168.41 631.25V705.77M1161.41 631.25H1175.41M1161.41 705.77H1175.41M1170.65 631.17V705.65M1163.65 631.17H1177.65M1163.65 705.65H1177.65M1172.90 631.10V705.54M1165.90 631.10H1179.90M1165.90 705.54H1179.90M1175.14 631.02V705.43M1168.14 631.02H1182.14M1168.14 705.43H1182.14M1177.38 630.94V705.32M1170.38 630.94H1184.38M1170.38 705.32H1184.38M1179.63 630.87V705.20M1172.63 630.87H1186.63M1172.63 705.20H1186.63M1181.87 630.79V705.09M1174.87 630.79H1188.87M1174.87 705.09H1188.87M1184.11 630.72V704.98M1177.11 630.72H1191.11M1177.11 704.98H1191.11M1186.36 630.64V704.86M1179.36 630.64H1193.36M1179.36 704.86H1193.36M1188.60 630.56V704.74M1181.60 630.56H1195.60M1181.60 704.74H1195.60M1190.84 630.46V704.61M1183.84 630.46H1197.84M1183.84 704.61H1197.84M1193.09 630.37V704.48M1186.09 630.37H1200.09M1186.09 704.48H1200.09M1195.33 630.27V704.34M1188.33 630.27H1202.33M1188.33 704.34H1202.33M1197.57 630.16V704.20M1190.57 630.16H1204.57M1190.57 704.20H1204.57M1199.82 630.05V704.05M1192.82 630.05H1206.82M1192.82 704.05H1206.82M1202.06 629.92V703.92M1195.06 629.92H1209.06M1195.06 703.92H1209.06M1204.30 629.78V703.78M1197.30 629.78H1211.30M1197.30 703.78H1211.30M1206.55 629.64V703.64M1199.55 629.64H1213.55M1199.55 703.64H1213.55M1208.79 629.50V703.50M1201.79 629.50H1215.79M1201.79 703.50H1215.79M1211.03 629.35V703.35M1204.03 629.35H1218.03M1204.03 703.35H1218.03M1213.28 629.20V703.20M1206.28 629.20H1220.28M1206.28 703.20H1220.28M1215.52 629.04V703.04M1208.52 629.04H1222.52M1208.52 703.04H1222.52M1217.76 628.89V702.89M1210.76 628.89H1224.76M1210.76 702.89H1224.76M1220.01 628.73V702.73M1213.01 628.73H1227.01M1213.01 702.73H1227.01M1222.25 628.57V702.57M1215.25 628.57H1229.25M1215.25 702.57H1229.25M1224.49 628.40V702.40M1217.49 628.40H1231.49M1217.49 702.40H1231.49M1226.74 628.24V702.24M1219.74 628.24H1233.74M1219.74 702.24H1233.74M1228.98 628.07V702.07M1221.98 628.07H1235.98M1221.98 702.07H1235.98M1231.22 627.90V701.90M1224.22 627.90H1238.22M1224.22 701.90H1238.22M1233.47 627.73V701.73M1226.47 627.73H1240.47M1226.47 701.73H1240.47M1235.71 627.56V701.56M1228.71 627.56H1242.71M1228.71 701.56H1242.71M1237.95 627.38V701.38M1230.95 627.38H1244.95M1230.95 701.38H1244.95M1240.20 627.20V701.20M1233.20 627.20H1247.20M1233.20 701.20H1247.20M1242.44 627.01V701.01M1235.44 627.01H1249.44M1235.44 701.01H1249.44M1244.68 626.83V700.83M1237.68 626.83H1251.68M1237.68 700.83H1251.68M1246.93 626.63V700.63M1239.93 626.63H1253.93M1239.93 700.63H1253.93M1249.17 626.44V700.44M1242.17 626.44H1256.17M1242.17 700.44H1256.17M1251.41 626.24V700.24M1244.41 626.24H1258.41M1244.41 700.24H1258.41M1253.66 626.03V700.03M1246.66 626.03H1260.66M1246.66 700.03H1260.66M1255.90 625.82V699.82M1248.90 625.82H1262.90M1248.90 699.82H1262.90M1258.14 625.60V699.60M1251.14 625.60H1265.14M1251.14 699.60H1265.14M1260.39 625.38V699.38M1253.39 625.38H1267.39M1253.39 699.38H1267.39M1262.63 625.16V699.16M1255.63 625.16H1269.63M1255.63 699.16H1269.63M1264.87 624.93V698.93M1257.87 624.93H1271.87M1257.87 698.93H1271.87M1267.12 624.69V698.69M1260.12 624.69H1274.12M1260.12 698.69H1274.12M1269.36 624.44V698.44M1262.36 624.44H1276.36M1262.36 698.44H1276.36M1271.61 624.19V698.19M1264.61 624.19H1278.61M1264.61 698.19H1278.61M1273.85 623.94V697.94M1266.85 623.94H1280.85M1266.85 697.94H1280.85M1276.09 623.67V697.67M1269.09 623.67H1283.09M1269.09 697.67H1283.09M1278.34 623.40V697.40M1271.34 623.40H1285.34M1271.34 697.40H1285.34M1280.58 623.13V697.13M1273.58 623.13H1287.58M1273.58 697.13H1287.58M1282.82 622.84V696.84M1275.82 622.84H1289.82M1275.82 696.84H1289.82M1285.07 622.53V696.53M1278.07 622.53H1292.07M1278.07 696.53H1292.07M1287.31 622.20V696.20M1280.31 622.20H1294.31M1280.31 696.20H1294.31M1289.55 621.86V695.86M1282.55 621.86H1296.55M1282.55 695.86H1296.55M1291.80 621.51V695.51M1284.80 621.51H1298.80M1284.80 695.51H1298.80M1294.04 621.14V695.14M1287.04 621.14H1301.04M1287.04 695.14H1301.04M1296.28 620.76V694.76M1289.28 620.76H1303.28M1289.28 694.76H1303.28M1298.53 620.36V694.36M1291.53 620.36H1305.53M1291.53 694.36H1305.53M1300.77 619.96V693.96M1293.77 619.96H1307.77M1293.77 693.96H1307.77M1303.01 619.54V693.54M1296.01 619.54H1310.01M1296.01 693.54H1310.01M1305.26 619.11V693.11M1298.26 619.11H1312.26M1298.26 693.11H1312.26M1307.50 618.68V692.68M1300.50 618.68H1314.50M1300.50 692.68H1314.50M1309.74 618.23V692.23M1302.74 618.23H1316.74M1302.74 692.23H1316.74M1311.99 617.76V691.76M1304.99 617.76H1318.99M1304.99 691.76H1318.99M1314.23 617.26V691.26M1307.23 617.26H1321.23M1307.23 691.26H1321.23M1316.47 616.73V690.73M1309.47 616.73H1323.47M1309.47 690.73H1323.47M1318.72 616.19V690.19M1311.72 616.19H1325.72M1311.72 690.19H1325.72M1320.96 615.63V689.63M1313.96 615.63H1327.96M1313.96 689.63H1327.96M1323.20 615.06V689.06M1316.20 615.06H1330.20M1316.20 689.06H1330.20M1325.45 614.47V688.47M1318.45 614.47H1332.45M1318.45 688.47H1332.45M1327.69 613.88V687.88M1320.69 613.88H1334.69M1320.69 687.88H1334.69M1329.93 613.28V687.28M1322.93 613.28H1336.93M1322.93 687.28H1336.93M1332.18 612.69V686.69M1325.18 612.69H1339.18M1325.18 686.69H1339.18M1334.42 612.09V686.09M1327.42 612.09H1341.42M1327.42 686.09H1341.42M1336.66 611.50V685.50M1329.66 611.50H1343.66M1329.66 685.50H1343.66M1338.91 610.91V684.91M1331.91 610.91H1345.91M1331.91 684.91H1345.91M1341.15 610.34V684.34M1334.15 610.34H1348.15M1334.15 684.34H1348.15M1343.39 609.77V683.77M1336.39 609.77H1350.39M1336.39 683.77H1350.39M1345.64 609.20V683.20M1338.64 609.20H1352.64M1338.64 683.20H1352.64M1347.88 608.63V682.63M1340.88 608.63H1354.88M1340.88 682.63H1354.88M1350.12 608.06V682.06M1343.12 608.06H1357.12M1343.12 682.06H1357.12M1352.37 607.47V681.47M1345.37 607.47H1359.37M1345.37 681.47H1359.37M1354.61 606.88V680.88M1347.61 606.88H1361.61M1347.61 680.88H1361.61M1356.85 606.27V680.27M1349.85 606.27H1363.85M1349.85 680.27H1363.85M1359.10 605.64V679.64M1352.10 605.64H1366.10M1352.10 679.64H1366.10M1361.34 604.99V678.99M1354.34 604.99H1368.34M1354.34 678.99H1368.34M1363.58 604.32V678.32M1356.58 604.32H1370.58M1356.58 678.32H1370.58M1365.83 603.61V677.61M1358.83 603.61H1372.83M1358.83 677.61H1372.83M1368.07 602.87V676.87M1361.07 602.87H1375.07M1361.07 676.87H1375.07M1370.32 602.03V676.03M1363.32 602.03H1377.32M1363.32 676.03H1377.32M1372.56 601.14V675.14M1365.56 601.14H1379.56M1365.56 675.14H1379.56M1374.80 600.22V674.22M1367.80 600.22H1381.80M1367.80 674.22H1381.80M1377.05 599.31V673.31M1370.05 599.31H1384.05M1370.05 673.31H1384.05M1379.29 598.46V672.46M1372.29 598.46H1386.29M1372.29 672.46H1386.29M1381.53 597.67V671.67M1374.53 597.67H1388.53M1374.53 671.67H1388.53M1383.78 596.92V670.92M1376.78 596.92H1390.78M1376.78 670.92H1390.78M1386.02 596.19V670.19M1379.02 596.19H1393.02M1379.02 670.19H1393.02M1388.26 595.48V669.48M1381.26 595.48H1395.26M1381.26 669.48H1395.26M1390.51 594.79V668.79M1383.51 594.79H1397.51M1383.51 668.79H1397.51M1392.75 594.11V668.11M1385.75 594.11H1399.75M1385.75 668.11H1399.75M1394.99 593.42V667.42M1387.99 593.42H1401.99M1387.99 667.42H1401.99M1397.24 592.73V666.73M1390.24 592.73H1404.24M1390.24 666.73H1404.24M1399.48 592.02V666.02M1392.48 592.02H1406.48M1392.48 666.02H1406.48M1401.72 591.33V665.26M1394.72 591.33H1408.72M1394.72 665.26H1408.72M1403.97 590.63V664.46M1396.97 590.63H1410.97M1396.97 664.46H1410.97M1406.21 589.91V663.64M1399.21 589.91H1413.21M1399.21 663.64H1413.21M1408.45 589.19V662.83M1401.45 589.19H1415.45M1401.45 662.83H1415.45M1410.70 588.46V662.00M1403.70 588.46H1417.70M1403.70 662.00H1417.70M1412.94 587.72V661.17M1405.94 587.72H1419.94M1405.94 661.17H1419.94M1415.18 586.97V660.32M1408.18 586.97H1422.18M1408.18 660.32H1422.18M1417.43 586.21V659.46M1410.43 586.21H1424.43M1410.43 659.46H1424.43M1419.67 585.42V658.58M1412.67 585.42H1426.67M1412.67 658.58H1426.67M1421.91 584.62V657.68M1414.91 584.62H1428.91M1414.91 657.68H1428.91M1424.16 583.78V656.75M1417.16 583.78H1431.16M1417.16 656.75H1431.16M1426.40 582.92V655.79M1419.40 582.92H1433.40M1419.40 655.79H1433.40M1428.64 582.02V654.80M1421.64 582.02H1435.64M1421.64 654.80H1435.64M1430.89 581.09V653.77M1423.89 581.09H1437.89M1423.89 653.77H1437.89M1433.13 580.13V652.71M1426.13 580.13H1440.13M1426.13 652.71H1440.13M1435.37 579.14V651.62M1428.37 579.14H1442.37M1428.37 651.62H1442.37M1437.62 578.11V650.50M1430.62 578.11H1444.62M1430.62 650.50H1444.62M1439.86 577.05V649.34M1432.86 577.05H1446.86M1432.86 649.34H1446.86M1442.10 575.96V648.15M1435.10 575.96H1449.10M1435.10 648.15H1449.10M1444.35 574.84V646.94M1437.35 574.84H1451.35M1437.35 646.94H1451.35M1446.59 573.69V645.69M1439.59 573.69H1453.59M1439.59 645.69H1453.59M1448.83 572.50V644.41M1441.83 572.50H1455.83M1441.83 644.41H1455.83M1451.08 571.29V643.10M1444.08 571.29H1458.08M1444.08 643.10H1458.08M1453.32 570.05V641.76M1446.32 570.05H1460.32M1446.32 641.76H1460.32M1455.56 568.75V640.37M1448.56 568.75H1462.56M1448.56 640.37H1462.56M1457.81 567.40V638.93M1450.81 567.40H1464.81M1450.81 638.93H1464.81M1460.05 566.01V637.43M1453.05 566.01H1467.05M1453.05 637.43H1467.05M1462.29 564.57V635.90M1455.29 564.57H1469.29M1455.29 635.90H1469.29M1464.54 563.10V634.33M1457.54 563.10H1471.54M1457.54 634.33H1471.54M1466.78 561.59V632.73M1459.78 561.59H1473.78M1459.78 632.73H1473.78M1469.03 560.07V631.11M1462.03 560.07H1476.03M1462.03 631.11H1476.03M1471.27 558.56V629.43M1464.27 558.56H1478.27M1464.27 629.43H1478.27M1473.51 557.06V627.71M1466.51 557.06H1480.51M1466.51 627.71H1480.51M1475.76 555.55V625.98M1468.76 555.55H1482.76M1468.76 625.98H1482.76M1478.00 554.03V624.23M1471.00 554.03H1485.00M1471.00 624.23H1485.00M1480.24 552.48V622.45M1473.24 552.48H1487.24M1473.24 622.45H1487.24M1482.49 550.88V620.63M1475.49 550.88H1489.49M1475.49 620.63H1489.49M1484.73 549.26V618.79M1477.73 549.26H1491.73M1477.73 618.79H1491.73M1486.97 547.62V616.92M1479.97 547.62H1493.97M1479.97 616.92H1493.97M1489.22 545.95V615.03M1482.22 545.95H1496.22M1482.22 615.03H1496.22M1491.46 544.28V613.13M1484.46 544.28H1498.46M1484.46 613.13H1498.46M1493.70 542.60V611.23M1486.70 542.60H1500.70M1486.70 611.23H1500.70M1495.95 540.91V609.32M1488.95 540.91H1502.95M1488.95 609.32H1502.95M1498.19 539.24V607.42M1491.19 539.24H1505.19M1491.19 607.42H1505.19M1500.43 537.57V605.53M1493.43 537.57H1507.43M1493.43 605.53H1507.43M1502.68 535.94V603.67M1495.68 535.94H1509.68M1495.68 603.67H1509.68M1504.92 534.34V601.85M1497.92 534.34H1511.92M1497.92 601.85H1511.92M1507.16 532.76V600.05M1500.16 532.76H1514.16M1500.16 600.05H1514.16M1509.41 531.19V598.25M1502.41 531.19H1516.41M1502.41 598.25H1516.41M1511.65 529.61V596.44M1504.65 529.61H1518.65M1504.65 596.44H1518.65M1513.89 528.00V594.61M1506.89 528.00H1520.89M1506.89 594.61H1520.89M1516.14 526.36V592.74M1509.14 526.36H1523.14M1509.14 592.74H1523.14M1518.38 524.65V590.82M1511.38 524.65H1525.38M1511.38 590.82H1525.38M1520.62 522.88V588.82M1513.62 522.88H1527.62M1513.62 588.82H1527.62M1522.87 521.03V586.74M1515.87 521.03H1529.87M1515.87 586.74H1529.87M1525.11 519.07V584.56M1518.11 519.07H1532.11M1518.11 584.56H1532.11M1527.35 516.93V582.19M1520.35 516.93H1534.35M1520.35 582.19H1534.35M1529.60 514.61V579.66M1522.60 514.61H1536.60M1522.60 579.66H1536.60M1531.84 512.15V577.09M1524.84 512.15H1538.84M1524.84 577.09H1538.84M1534.08 509.65V574.51M1527.08 509.65H1541.08M1527.08 574.51H1541.08M1536.33 507.20V571.99M1529.33 507.20H1543.33M1529.33 571.99H1543.33M1538.57 504.74V569.45M1531.57 504.74H1545.57M1531.57 569.45H1545.57M1540.81 502.16V566.80M1533.81 502.16H1547.81M1533.81 566.80H1547.81M1543.06 499.59V564.16M1536.06 499.59H1550.06M1536.06 564.16H1550.06M1545.30 497.18V561.67M1538.30 497.18H1552.30M1538.30 561.67H1552.30M1547.54 495.05V559.47M1540.54 495.05H1554.54M1540.54 559.47H1554.54M1549.79 493.31V557.65M1542.79 493.31H1556.79M1542.79 557.65H1556.79M1552.03 491.82V556.09M1545.03 491.82H1559.03M1545.03 556.09H1559.03M1554.27 490.49V554.68M1547.27 490.49H1561.27M1547.27 554.68H1561.27M1556.52 489.26V553.38M1549.52 489.26H1563.52M1549.52 553.38H1563.52M1558.76 488.06V552.10M1551.76 488.06H1565.76M1551.76 552.10H1565.76M1561.00 486.80V550.85M1554.00 486.80H1568.00M1554.00 550.85H1568.00M1563.25 485.54V549.70M1556.25 485.54H1570.25M1556.25 549.70H1570.25M1565.49 484.34V548.61M1558.49 484.34H1572.49M1558.49 548.61H1572.49M1567.74 483.14V547.53M1560.74 483.14H1574.74M1560.74 547.53H1574.74M1569.98 481.90V546.40M1562.98 481.90H1576.98M1562.98 546.40H1576.98M1572.22 480.55V545.16M1565.22 480.55H1579.22M1565.22 545.16H1579.22M1574.47 479.05V543.77M1567.47 479.05H1581.47M1567.47 543.77H1581.47M1576.71 477.40V542.24M1569.71 477.40H1583.71M1569.71 542.24H1583.71M1578.95 475.65V540.60M1571.95 475.65H1585.95M1571.95 540.60H1585.95M1581.20 473.82V538.88M1574.20 473.82H1588.20M1574.20 538.88H1588.20M1583.44 471.93V537.11M1576.44 471.93H1590.44M1576.44 537.11H1590.44M1585.68 470.03V535.31M1578.68 470.03H1592.68M1578.68 535.31H1592.68M1587.93 468.07V533.47M1580.93 468.07H1594.93M1580.93 533.47H1594.93M1590.17 466.06V531.57M1583.17 466.06H1597.17M1583.17 531.57H1597.17M1592.41 463.97V529.59M1585.41 463.97H1599.41M1585.41 529.59H1599.41M1594.66 461.82V527.55M1587.66 461.82H1601.66M1587.66 527.55H1601.66M1596.90 459.58V525.42M1589.90 459.58H1603.90M1589.90 525.42H1603.90M1599.14 457.24V523.20M1592.14 457.24H1606.14M1592.14 523.20H1606.14M1601.39 454.83V520.84M1594.39 454.83H1608.39M1594.39 520.84H1608.39M1603.63 452.34V518.37M1596.63 452.34H1610.63M1596.63 518.37H1610.63M1605.87 449.79V515.84M1598.87 449.79H1612.87M1598.87 515.84H1612.87M1608.12 447.18V513.25M1601.12 447.18H1615.12M1601.12 513.25H1615.12M1610.36 444.54V510.63M1603.36 444.54H1617.36M1603.36 510.63H1617.36M1612.60 441.84V507.95M1605.60 441.84H1619.60M1605.60 507.95H1619.60M1614.85 439.05V505.18M1607.85 439.05H1621.85M1607.85 505.18H1621.85M1617.09 436.15V502.30M1610.09 436.15H1624.09M1610.09 502.30H1624.09M1619.33 433.11V499.28M1612.33 433.11H1626.33M1612.33 499.28H1626.33M1621.58 429.96V496.15M1614.58 429.96H1628.58M1614.58 496.15H1628.58M1623.82 426.71V492.92M1616.82 426.71H1630.82M1616.82 492.92H1630.82M1626.06 423.35V489.57M1619.06 423.35H1633.06M1619.06 489.57H1633.06M1628.31 419.85V486.10M1621.31 419.85H1635.31M1621.31 486.10H1635.31M1630.55 416.20V482.47M1623.55 416.20H1637.55M1623.55 482.47H1637.55M1632.79 412.39V478.68M1625.79 412.39H1639.79M1625.79 478.68H1639.79M1635.04 408.42V474.73M1628.04 408.42H1642.04M1628.04 474.73H1642.04M1637.28 404.34V470.66M1630.28 404.34H1644.28M1630.28 470.66H1644.28M1639.52 400.08V466.42M1632.52 400.08H1646.52M1632.52 466.42H1646.52M1641.77 395.60V461.96M1634.77 395.60H1648.77M1634.77 461.96H1648.77M1644.01 390.82V457.20M1637.01 390.82H1651.01M1637.01 457.20H1651.01M1646.25 385.71V452.11M1639.25 385.71H1653.25M1639.25 452.11H1653.25M1648.50 380.19V446.61M1641.50 380.19H1655.50M1641.50 446.61H1655.50M1650.74 373.48V439.92M1643.74 373.48H1657.74M1643.74 439.92H1657.74M1652.98 366.87V433.33M1645.98 366.87H1659.98M1645.98 433.33H1659.98M1655.23 361.06V427.54M1648.23 361.06H1662.23M1648.23 427.54H1662.23M1657.47 354.65V421.15M1650.47 354.65H1664.47M1650.47 421.15H1664.47M1659.71 348.94V415.46M1652.71 348.94H1666.71M1652.71 415.46H1666.71M1661.96 343.13V409.67M1654.96 343.13H1668.96M1654.96 409.67H1668.96M1664.20 337.02V403.58M1657.20 337.02H1671.20M1657.20 403.58H1671.20M1666.45 329.81V396.39M1659.45 329.81H1673.45M1659.45 396.39H1673.45M1668.69 322.60V389.20M1661.69 322.60H1675.69M1661.69 389.20H1675.69M1670.93 315.39V382.01M1663.93 315.39H1677.93M1663.93 382.01H1677.93M1673.18 307.28V373.92M1666.18 307.28H1680.18M1666.18 373.92H1680.18M1675.42 298.87V365.53M1668.42 298.87H1682.42M1668.42 365.53H1682.42M1677.66 290.17V356.83M1670.66 290.17H1684.66M1670.66 356.83H1684.66M1679.91 281.86V348.54M1672.91 281.86H1686.91M1672.91 348.54H1686.91M1682.15 272.55V339.25M1675.15 272.55H1689.15M1675.15 339.25H1689.15M1684.39 263.04V329.76M1677.39 263.04H1691.39M1677.39 329.76H1691.39M1686.64 253.53V320.27M1679.64 253.53H1693.64M1679.64 320.27H1693.64M1688.88 242.52V309.28M1681.88 242.52H1695.88M1681.88 309.28H1695.88M1691.12 232.11V298.89M1684.12 232.11H1698.12M1684.12 298.89H1698.12M1693.37 220.20V287.00M1686.37 220.20H1700.37M1686.37 287.00H1700.37M1695.61 208.39V275.21M1688.61 208.39H1702.61M1688.61 275.21H1702.61M1697.85 196.28V263.12M1690.85 196.28H1704.85M1690.85 263.12H1704.85M1700.10 183.27V250.13M1693.10 183.27H1707.10M1693.10 250.13H1707.10M1702.34 168.76V235.64M1695.34 168.76H1709.34M1695.34 235.64H1709.34M1704.58 154.35V221.25M1697.58 154.35H1711.58M1697.58 221.25H1711.58M1706.83 139.04V205.96M1699.83 139.04H1713.83M1699.83 205.96H1713.83M1709.07 123.53V190.47M1702.07 123.53H1716.07M1702.07 190.47H1716.07M1711.31 105.42V172.38M1704.31 105.42H1718.31M1704.31 172.38H1718.31M1713.56 87.51V154.49M1706.56 87.51H1720.56M1706.56 154.49H1720.56M1715.80 72.20V139.20M1708.80 72.20H1722.80M1708.80 139.20H1722.80" stroke="#A9A9A9" stroke-width="1.1" fill="none"/>
<g fill="#FF0000"><circle cx="1018.10" cy="665.60" r="3.0"/><circle cx="1020.34" cy="665.70" r="3.0"/><circle cx="1022.59" cy="665.80" r="3.0"/><circle cx="1024.83" cy="665.89" r="3.0"/><circle cx="1027.07" cy="665.99" r="3.0"/><circle cx="1029.32" cy="666.08" r="3.0"/><circle cx="1031.56" cy="666.17" r="3.0"/><circle cx="1033.80" cy="666.26" r="3.0"/><circle cx="1036.05" cy="666.35" r="3.0"/><circle cx="1038.29" cy="666.44" r="3.0"/><circle cx="1040.53" cy="666.52" r="3.0"/><circle cx="1042.78" cy="666.60" r="3.0"/><circle cx="1045.02" cy="666.68" r="3.0"/><circle cx="1047.26" cy="666.76" r="3.0"/><circle cx="1049.51" cy="666.83" r="3.0"/><circle cx="1051.75" cy="666.90" r="3.0"/><circle cx="1053.99" cy="666.97" r="3.0"/><circle cx="1056.24" cy="667.04" r="3.0"/><circle cx="1058.48" cy="667.10" r="3.0"/><circle cx="1060.72" cy="667.16" r="3.0"/><circle cx="1062.97" cy="667.22" r="3.0"/><circle cx="1065.21" cy="667.28" r="3.0"/><circle cx="1067.45" cy="667.33" r="3.0"/><circle cx="1069.70" cy="667.38" r="3.0"/><circle cx="1071.94" cy="667.43" r="3.0"/><circle cx="1074.19" cy="667.49" r="3.0"/><circle cx="1076.43" cy="667.54" r="3.0"/><circle cx="1078.67" cy="667.59" r="3.0"/><circle cx="1080.92" cy="667.64" r="3.0"/><circle cx="1083.16" cy="667.69" r="3.0"/><circle cx="1085.40" cy="667.75" r="3.0"/><circle cx="1087.65" cy="667.80" r="3.0"/><circle cx="1089.89" cy="667.86" r="3.0"/><circle cx="1092.13" cy="667.92" r="3.0"/><circle cx="1094.38" cy="667.99" r="3.0"/><circle cx="1096.62" cy="668.06" r="3.0"/><circle cx="1098.86" cy="668.14" r="3.0"/><circle cx="1101.11" cy="668.23" r="3.0"/><circle cx="1103.35" cy="668.32" r="3.0"/><circle cx="1105.59" cy="668.41" r="3.0"/><circle cx="1107.84" cy="668.50" r="3.0"/><circle cx="1110.08" cy="668.59" r="3.0"/><circle cx="1112.32" cy="668.68" r="3.0"/><circle cx="1114.57" cy="668.77" r="3.0"/><circle cx="1116.81" cy="668.86" r="3.0"/><circle cx="1119.05" cy="668.94" r="3.0"/><circle cx="1121.30" cy="669.01" r="3.0"/><circle cx="1123.54" cy="669.08" r="3.0"/><circle cx="1125.78" cy="669.14" r="3.0"/><circle cx="1128.03" cy="669.20" r="3.0"/><circle cx="1130.27" cy="669.24" r="3.0"/><circle cx="1132.51" cy="669.27" r="3.0"/><circle cx="1134.76" cy="669.29" r="3.0"/><circle cx="1137.00" cy="669.30" r="3.0"/><circle cx="1139.24" cy="669.29" r="3.0"/><circle cx="1141.49" cy="669.28" r="3.0"/><circle cx="1143.73" cy="669.25" r="3.0"/><circle cx="1145.97" cy="669.22" r="3.0"/><circle cx="1148.22" cy="669.17" r="3.0"/><circle cx="1150.46" cy="669.12" r="3.0"/><circle cx="1152.70" cy="669.06" r="3.0"/><circle cx="1154.95" cy="669.00" r="3.0"/><circle cx="1157.19" cy="668.93" r="3.0"/><circle cx="1159.43" cy="668.85" r="3.0"/><circle cx="1161.68" cy="668.77" r="3.0"/><circle cx="1163.92" cy="668.69" r="3.0"/><circle cx="1166.16" cy="668.60" r="3.0"/><circle cx="1168.41" cy="668.51" r="3.0"/><circle cx="1170.65" cy="668.41" r="3.0"/><circle cx="1172.90" cy="668.32" r="3.0"/><circle cx="1175.14" cy="668.22" r="3.0"/><circle cx="1177.38" cy="668.13" r="3.0"/><circle cx="1179.63" cy="668.04" r="3.0"/><circle cx="1181.87" cy="667.94" r="3.0"/><circle cx="1184.11" cy="667.85" r="3.0"/><circle cx="1186.36" cy="667.75" r="3.0"/><circle cx="1188.60" cy="667.65" r="3.0"/><circle cx="1190.84" cy="667.54" r="3.0"/><circle cx="1193.09" cy="667.43" r="3.0"/><circle cx="1195.33" cy="667.31" r="3.0"/><circle cx="1197.57" cy="667.18" r="3.0"/><circle cx="1199.82" cy="667.05" r="3.0"/><circle cx="1202.06" cy="666.92" r="3.0"/><circle cx="1204.30" cy="666.78" r="3.0"/><circle cx="1206.55" cy="666.64" r="3.0"/><circle cx="1208.79" cy="666.50" r="3.0"/><circle cx="1211.03" cy="666.35" r="3.0"/><circle cx="1213.28" cy="666.20" r="3.0"/><circle cx="1215.52" cy="666.04" r="3.0"/><circle cx="1217.76" cy="665.89" r="3.0"/><circle cx="1220.01" cy="665.73" r="3.0"/><circle cx="1222.25" cy="665.57" r="3.0"/><circle cx="1224.49" cy="665.40" r="3.0"/><circle cx="1226.74" cy="665.24" r="3.0"/><circle cx="1228.98" cy="665.07" r="3.0"/><circle cx="1231.22" cy="664.90" r="3.0"/><circle cx="1233.47" cy="664.73" r="3.0"/><circle cx="1235.71" cy="664.56" r="3.0"/><circle cx="1237.95" cy="664.38" r="3.0"/><circle cx="1240.20" cy="664.20" r="3.0"/><circle cx="1242.44" cy="664.01" r="3.0"/><circle cx="1244.68" cy="663.83" r="3.0"/><circle cx="1246.93" cy="663.63" r="3.0"/><circle cx="1249.17" cy="663.44" r="3.0"/><circle cx="1251.41" cy="663.24" r="3.0"/><circle cx="1253.66" cy="663.03" r="3.0"/><circle cx="1255.90" cy="662.82" r="3.0"/><circle cx="1258.14" cy="662.60" r="3.0"/><circle cx="1260.39" cy="662.38" r="3.0"/><circle cx="1262.63" cy="662.16" r="3.0"/><circle cx="1264.87" cy="661.93" r="3.0"/><circle cx="1267.12" cy="661.69" r="3.0"/><circle cx="1269.36" cy="661.44" r="3.0"/><circle cx="1271.61" cy="661.19" r="3.0"/><circle cx="1273.85" cy="660.94" r="3.0"/><circle cx="1276.09" cy="660.67" r="3.0"/><circle cx="1278.34" cy="660.40" r="3.0"/><circle cx="1280.58" cy="660.13" r="3.0"/><circle cx="1282.82" cy="659.84" r="3.0"/><circle cx="1285.07" cy="659.53" r="3.0"/><circle cx="1287.31" cy="659.20" r="3.0"/><circle cx="1289.55" cy="658.86" r="3.0"/><circle cx="1291.80" cy="658.51" r="3.0"/><circle cx="1294.04" cy="658.14" r="3.0"/><circle cx="1296.28" cy="657.76" r="3.0"/><circle cx="1298.53" cy="657.36" r="3.0"/><circle cx="1300.77" cy="656.96" r="3.0"/><circle cx="1303.01" cy="656.54" r="3.0"/><circle cx="1305.26" cy="656.11" r="3.0"/><circle cx="1307.50" cy="655.68" r="3.0"/><circle cx="1309.74" cy="655.23" r="3.0"/><circle cx="1311.99" cy="654.76" r="3.0"/><circle cx="1314.23" cy="654.26" r="3.0"/><circle cx="1316.47" cy="653.73" r="3.0"/><circle cx="1318.72" cy="653.19" r="3.0"/><circle cx="1320.96" cy="652.63" r="3.0"/><circle cx="1323.20" cy="652.06" r="3.0"/><circle cx="1325.45" cy="651.47" r="3.0"/><circle cx="1327.69" cy="650.88" r="3.0"/><circle cx="1329.93" cy="650.28" r="3.0"/><circle cx="1332.18" cy="649.69" r="3.0"/><circle cx="1334.42" cy="649.09" r="3.0"/><circle cx="1336.66" cy="648.50" r="3.0"/><circle cx="1338.91" cy="647.91" r="3.0"/><circle cx="1341.15" cy="647.34" r="3.0"/><circle cx="1343.39" cy="646.77" r="3.0"/><circle cx="1345.64" cy="646.20" r="3.0"/><circle cx="1347.88" cy="645.63" r="3.0"/><circle cx="1350.12" cy="645.06" r="3.0"/><circle cx="1352.37" cy="644.47" r="3.0"/><circle cx="1354.61" cy="643.88" r="3.0"/><circle cx="1356.85" cy="643.27" r="3.0"/><circle cx="1359.10" cy="642.64" r="3.0"/><circle cx="1361.34" cy="641.99" r="3.0"/><circle cx="1363.58" cy="641.32" r="3.0"/><circle cx="1365.83" cy="640.61" r="3.0"/><circle cx="1368.07" cy="639.87" r="3.0"/><circle cx="1370.32" cy="639.03" r="3.0"/><circle cx="1372.56" cy="638.14" r="3.0"/><circle cx="1374.80" cy="637.22" r="3.0"/><circle cx="1377.05" cy="636.31" r="3.0"/><circle cx="1379.29" cy="635.46" r="3.0"/><circle cx="1381.53" cy="634.67" r="3.0"/><circle cx="1383.78" cy="633.92" r="3.0"/><circle cx="1386.02" cy="633.19" r="3.0"/><circle cx="1388.26" cy="632.48" r="3.0"/><circle cx="1390.51" cy="631.79" r="3.0"/><circle cx="1392.75" cy="631.11" r="3.0"/><circle cx="1394.99" cy="630.42" r="3.0"/><circle cx="1397.24" cy="629.73" r="3.0"/><circle cx="1399.48" cy="629.02" r="3.0"/><circle cx="1401.72" cy="628.30" r="3.0"/><circle cx="1403.97" cy="627.55" r="3.0"/><circle cx="1406.21" cy="626.78" r="3.0"/><circle cx="1408.45" cy="626.01" r="3.0"/><circle cx="1410.70" cy="625.23" r="3.0"/><circle cx="1412.94" cy="624.45" r="3.0"/><circle cx="1415.18" cy="623.65" r="3.0"/><circle cx="1417.43" cy="622.84" r="3.0"/><circle cx="1419.67" cy="622.00" r="3.0"/><circle cx="1421.91" cy="621.15" r="3.0"/><circle cx="1424.16" cy="620.27" r="3.0"/><circle cx="1426.40" cy="619.35" r="3.0"/><circle cx="1428.64" cy="618.41" r="3.0"/><circle cx="1430.89" cy="617.43" r="3.0"/><circle cx="1433.13" cy="616.42" r="3.0"/><circle cx="1435.37" cy="615.38" r="3.0"/><circle cx="1437.62" cy="614.30" r="3.0"/><circle cx="1439.86" cy="613.19" r="3.0"/><circle cx="1442.10" cy="612.06" r="3.0"/><circle cx="1444.35" cy="610.89" r="3.0"/><circle cx="1446.59" cy="609.69" r="3.0"/><circle cx="1448.83" cy="608.46" r="3.0"/><circle cx="1451.08" cy="607.20" r="3.0"/><circle cx="1453.32" cy="605.91" r="3.0"/><circle cx="1455.56" cy="604.56" r="3.0"/><circle cx="1457.81" cy="603.17" r="3.0"/><circle cx="1460.05" cy="601.72" r="3.0"/><circle cx="1462.29" cy="600.24" r="3.0"/><circle cx="1464.54" cy="598.71" r="3.0"/><circle cx="1466.78" cy="597.16" r="3.0"/><circle cx="1469.03" cy="595.59" r="3.0"/><circle cx="1471.27" cy="593.99" r="3.0"/><circle cx="1473.51" cy="592.38" r="3.0"/><circle cx="1475.76" cy="590.77" r="3.0"/><circle cx="1478.00" cy="589.13" r="3.0"/><circle cx="1480.24" cy="587.46" r="3.0"/><circle cx="1482.49" cy="585.76" r="3.0"/><circle cx="1484.73" cy="584.02" r="3.0"/><circle cx="1486.97" cy="582.27" r="3.0"/><circle cx="1489.22" cy="580.49" r="3.0"/><circle cx="1491.46" cy="578.70" r="3.0"/><circle cx="1493.70" cy="576.91" r="3.0"/><circle cx="1495.95" cy="575.12" r="3.0"/><circle cx="1498.19" cy="573.33" r="3.0"/><circle cx="1500.43" cy="571.55" r="3.0"/><circle cx="1502.68" cy="569.81" r="3.0"/><circle cx="1504.92" cy="568.09" r="3.0"/><circle cx="1507.16" cy="566.40" r="3.0"/><circle cx="1509.41" cy="564.72" r="3.0"/><circle cx="1511.65" cy="563.02" r="3.0"/><circle cx="1513.89" cy="561.31" r="3.0"/><circle cx="1516.14" cy="559.55" r="3.0"/><circle cx="1518.38" cy="557.74" r="3.0"/><circle cx="1520.62" cy="555.85" r="3.0"/><circle cx="1522.87" cy="553.89" r="3.0"/><circle cx="1525.11" cy="551.82" r="3.0"/><circle cx="1527.35" cy="549.56" r="3.0"/><circle cx="1529.60" cy="547.14" r="3.0"/><circle cx="1531.84" cy="544.62" r="3.0"/><circle cx="1534.08" cy="542.08" r="3.0"/><circle cx="1536.33" cy="539.60" r="3.0"/><circle cx="1538.57" cy="537.10" r="3.0"/><circle cx="1540.81" cy="534.48" r="3.0"/><circle cx="1543.06" cy="531.88" r="3.0"/><circle cx="1545.30" cy="529.43" r="3.0"/><circle cx="1547.54" cy="527.26" r="3.0"/><circle cx="1549.79" cy="525.48" r="3.0"/><circle cx="1552.03" cy="523.96" r="3.0"/><circle cx="1554.27" cy="522.59" r="3.0"/><circle cx="1556.52" cy="521.32" r="3.0"/><circle cx="1558.76" cy="520.08" r="3.0"/><circle cx="1561.00" cy="518.83" r="3.0"/><circle cx="1563.25" cy="517.62" r="3.0"/><circle cx="1565.49" cy="516.47" r="3.0"/><circle cx="1567.74" cy="515.34" r="3.0"/><circle cx="1569.98" cy="514.15" r="3.0"/><circle cx="1572.22" cy="512.86" r="3.0"/><circle cx="1574.47" cy="511.41" r="3.0"/><circle cx="1576.71" cy="509.82" r="3.0"/><circle cx="1578.95" cy="508.12" r="3.0"/><circle cx="1581.20" cy="506.35" r="3.0"/><circle cx="1583.44" cy="504.52" r="3.0"/><circle cx="1585.68" cy="502.67" r="3.0"/><circle cx="1587.93" cy="500.77" r="3.0"/><circle cx="1590.17" cy="498.81" r="3.0"/><circle cx="1592.41" cy="496.78" r="3.0"/><circle cx="1594.66" cy="494.68" r="3.0"/><circle cx="1596.90" cy="492.50" r="3.0"/><circle cx="1599.14" cy="490.22" r="3.0"/><circle cx="1601.39" cy="487.83" r="3.0"/><circle cx="1603.63" cy="485.36" r="3.0"/><circle cx="1605.87" cy="482.81" r="3.0"/><circle cx="1608.12" cy="480.22" r="3.0"/><circle cx="1610.36" cy="477.58" r="3.0"/><circle cx="1612.60" cy="474.89" r="3.0"/><circle cx="1614.85" cy="472.12" r="3.0"/><circle cx="1617.09" cy="469.23" r="3.0"/><circle cx="1619.33" cy="466.19" r="3.0"/><circle cx="1621.58" cy="463.05" r="3.0"/><circle cx="1623.82" cy="459.82" r="3.0"/><circle cx="1626.06" cy="456.46" r="3.0"/><circle cx="1628.31" cy="452.97" r="3.0"/><circle cx="1630.55" cy="449.34" r="3.0"/><circle cx="1632.79" cy="445.53" r="3.0"/><circle cx="1635.04" cy="441.57" r="3.0"/><circle cx="1637.28" cy="437.50" r="3.0"/><circle cx="1639.52" cy="433.25" r="3.0"/><circle cx="1641.77" cy="428.78" r="3.0"/><circle cx="1644.01" cy="424.01" r="3.0"/><circle cx="1646.25" cy="418.91" r="3.0"/><circle cx="1648.50" cy="413.40" r="3.0"/><circle cx="1650.74" cy="406.70" r="3.0"/><circle cx="1652.98" cy="400.10" r="3.0"/><circle cx="1655.23" cy="394.30" r="3.0"/><circle cx="1657.47" cy="387.90" r="3.0"/><circle cx="1659.71" cy="382.20" r="3.0"/><circle cx="1661.96" cy="376.40" r="3.0"/><circle cx="1664.20" cy="370.30" r="3.0"/><circle cx="1666.45" cy="363.10" r="3.0"/><circle cx="1668.69" cy="355.90" r="3.0"/><circle cx="1670.93" cy="348.70" r="3.0"/><circle cx="1673.18" cy="340.60" r="3.0"/><circle cx="1675.42" cy="332.20" r="3.0"/><circle cx="1677.66" cy="323.50" r="3.0"/><circle cx="1679.91" cy="315.20" r="3.0"/><circle cx="1682.15" cy="305.90" r="3.0"/><circle cx="1684.39" cy="296.40" r="3.0"/><circle cx="1686.64" cy="286.90" r="3.0"/><circle cx="1688.88" cy="275.90" r="3.0"/><circle cx="1691.12" cy="265.50" r="3.0"/><circle cx="1693.37" cy="253.60" r="3.0"/><circle cx="1695.61" cy="241.80" r="3.0"/><circle cx="1697.85" cy="229.70" r="3.0"/><circle cx="1700.10" cy="216.70" r="3.0"/><circle cx="1702.34" cy="202.20" r="3.0"/><circle cx="1704.58" cy="187.80" r="3.0"/><circle cx="1706.83" cy="172.50" r="3.0"/><circle cx="1709.07" cy="157.00" r="3.0"/><circle cx="1711.31" cy="138.90" r="3.0"/><circle cx="1713.56" cy="121.00" r="3.0"/><circle cx="1715.80" cy="105.70" r="3.0"/></g>
<rect x="989.90" y="47.10" width="753.60" height="685.40" fill="none" stroke="#111" stroke-width="1.6"/>
<line x1="1106.90" y1="732.50" x2="1106.90" y2="743.50" stroke="#111" stroke-width="1.7"/>
<text x="1106.10" y="773.60" font-size="20" text-anchor="middle" font-weight="normal" font-family="'Liberation Sans', Arial, sans-serif" fill="#000">-7</text>
<line x1="1227.98" y1="732.50" x2="1227.98" y2="743.50" stroke="#111" stroke-width="1.7"/>
<text x="1227.18" y="773.60" font-size="20" text-anchor="middle" font-weight="normal" font-family="'Liberation Sans', Arial, sans-serif" fill="#000">-6</text>
<line x1="1349.06" y1="732.50" x2="1349.06" y2="743.50" stroke="#111" stroke-width="1.7"/>
<text x="1348.26" y="773.60" font-size="20" text-anchor="middle" font-weight="normal" font-family="'Liberation Sans', Arial, sans-serif" fill="#000">-5</text>
<line x1="1470.14" y1="732.50" x2="1470.14" y2="743.50" stroke="#111" stroke-width="1.7"/>
<text x="1469.34" y="773.60" font-size="20" text-anchor="middle" font-weight="normal" font-family="'Liberation Sans', Arial, sans-serif" fill="#000">-4</text>
<line x1="1591.22" y1="732.50" x2="1591.22" y2="743.50" stroke="#111" stroke-width="1.7"/>
<text x="1590.42" y="773.60" font-size="20" text-anchor="middle" font-weight="normal" font-family="'Liberation Sans', Arial, sans-serif" fill="#000">-3</text>
<line x1="1712.30" y1="732.50" x2="1712.30" y2="743.50" stroke="#111" stroke-width="1.7"/>
<text x="1711.50" y="773.60" font-size="20" text-anchor="middle" font-weight="normal" font-family="'Liberation Sans', Arial, sans-serif" fill="#000">-2</text>
<line x1="989.90" y1="684.80" x2="978.40" y2="684.80" stroke="#111" stroke-width="1.7"/>
<text x="962.60" y="685.30" font-size="20" text-anchor="middle" font-weight="normal" font-family="'Liberation Sans', Arial, sans-serif" fill="#000" transform="rotate(-90 962.60 685.30)" letter-spacing="-1.0">0.60</text>
<line x1="989.90" y1="526.85" x2="978.40" y2="526.85" stroke="#111" stroke-width="1.7"/>
<text x="962.60" y="527.35" font-size="20" text-anchor="middle" font-weight="normal" font-family="'Liberation Sans', Arial, sans-serif" fill="#000" transform="rotate(-90 962.60 527.35)" letter-spacing="-1.0">0.65</text>
<line x1="989.90" y1="368.90" x2="978.40" y2="368.90" stroke="#111" stroke-width="1.7"/>
<text x="962.60" y="369.40" font-size="20" text-anchor="middle" font-weight="normal" font-family="'Liberation Sans', Arial, sans-serif" fill="#000" transform="rotate(-90 962.60 369.40)" letter-spacing="-1.0">0.70</text>
<line x1="989.90" y1="210.95" x2="978.40" y2="210.95" stroke="#111" stroke-width="1.7"/>
<text x="962.60" y="211.45" font-size="20" text-anchor="middle" font-weight="normal" font-family="'Liberation Sans', Arial, sans-serif" fill="#000" transform="rotate(-90 962.60 211.45)" letter-spacing="-1.0">0.75</text>
<line x1="989.90" y1="53.00" x2="978.40" y2="53.00" stroke="#111" stroke-width="1.7"/>
<text x="962.60" y="53.50" font-size="20" text-anchor="middle" font-weight="normal" font-family="'Liberation Sans', Arial, sans-serif" fill="#000" transform="rotate(-90 962.60 53.50)" letter-spacing="-1.0">0.80</text>
<text x="1017.20" y="20.10" font-size="20" text-anchor="middle" font-weight="normal" font-family="'Liberation Sans', Arial, sans-serif" fill="#000">53</text>
<text x="1053.80" y="20.10" font-size="20" text-anchor="middle" font-weight="normal" font-family="'Liberation Sans', Arial, sans-serif" fill="#000">50</text>
<text x="1092.20" y="20.10" font-size="20" text-anchor="middle" font-weight="normal" font-family="'Liberation Sans', Arial, sans-serif" fill="#000">45</text>
<text x="1130.40" y="20.10" font-size="20" text-anchor="middle" font-weight="normal" font-family="'Liberation Sans', Arial, sans-serif" fill="#000">44</text>
<text x="1168.50" y="20.10" font-size="20" text-anchor="middle" font-weight="normal" font-family="'Liberation Sans', Arial, sans-serif" fill="#000">40</text>
<text x="1206.90" y="20.10" font-size="20" text-anchor="middle" font-weight="normal" font-family="'Liberation Sans', Arial, sans-serif" fill="#000">38</text>
<text x="1244.60" y="20.10" font-size="20" text-anchor="middle" font-weight="normal" font-family="'Liberation Sans', Arial, sans-serif" fill="#000">37</text>
<text x="1282.40" y="20.10" font-size="20" text-anchor="middle" font-weight="normal" font-family="'Liberation Sans', Arial, sans-serif" fill="#000">33</text>
<text x="1320.10" y="20.10" font-size="20" text-anchor="middle" font-weight="normal" font-family="'Liberation Sans', Arial, sans-serif" fill="#000">29</text>
<text x="1358.50" y="20.10" font-size="20" text-anchor="middle" font-weight="normal" font-family="'Liberation Sans', Arial, sans-serif" fill="#000">23</text>
<text x="1398.00" y="20.10" font-size="20" text-anchor="middle" font-weight="normal" font-family="'Liberation Sans', Arial, sans-serif" fill="#000">14</text>
<text x="1429.50" y="20.10" font-size="20" text-anchor="middle" font-weight="normal" font-family="'Liberation Sans', Arial, sans-serif" fill="#000">9</text>
<text x="1455.80" y="20.10" font-size="20" text-anchor="middle" font-weight="normal" font-family="'Liberation Sans', Arial, sans-serif" fill="#000">5</text>
<text x="1483.70" y="20.10" font-size="20" text-anchor="middle" font-weight="normal" font-family="'Liberation Sans', Arial, sans-serif" fill="#000">5</text>
<text x="1510.00" y="20.10" font-size="20" text-anchor="middle" font-weight="normal" font-family="'Liberation Sans', Arial, sans-serif" fill="#000">3</text>
<text x="1536.90" y="20.10" font-size="20" text-anchor="middle" font-weight="normal" font-family="'Liberation Sans', Arial, sans-serif" fill="#000">3</text>
<text x="1563.20" y="20.10" font-size="20" text-anchor="middle" font-weight="normal" font-family="'Liberation Sans', Arial, sans-serif" fill="#000">1</text>
<text x="1590.60" y="20.10" font-size="20" text-anchor="middle" font-weight="normal" font-family="'Liberation Sans', Arial, sans-serif" fill="#000">1</text>
<text x="1616.90" y="20.10" font-size="20" text-anchor="middle" font-weight="normal" font-family="'Liberation Sans', Arial, sans-serif" fill="#000">1</text>
<text x="1644.40" y="20.10" font-size="20" text-anchor="middle" font-weight="normal" font-family="'Liberation Sans', Arial, sans-serif" fill="#000">1</text>
<text x="1671.30" y="20.10" font-size="20" text-anchor="middle" font-weight="normal" font-family="'Liberation Sans', Arial, sans-serif" fill="#000">1</text>
<text x="1698.10" y="20.10" font-size="20" text-anchor="middle" font-weight="normal" font-family="'Liberation Sans', Arial, sans-serif" fill="#000">1</text>
<line x1="1142.40" y1="47.10" x2="1142.40" y2="732.50" stroke="#000" stroke-width="1.6" stroke-dasharray="2.4 2.4"/>
<line x1="1390.80" y1="47.10" x2="1390.80" y2="732.50" stroke="#000" stroke-width="1.6" stroke-dasharray="2.4 2.4"/>
<text x="918.00" y="390.00" font-size="20.6" text-anchor="middle" font-weight="normal" font-family="'Liberation Sans', Arial, sans-serif" fill="#000" transform="rotate(-90 918.00 390.00)" textLength="160.5" lengthAdjust="spacingAndGlyphs">Binomial Deviance</text>
<text x="1365.8" y="815.4" font-size="20" text-anchor="middle" font-family="'Liberation Sans', Arial, sans-serif">Log<tspan font-family="'Liberation Serif', serif" font-size="23">(</tspan><tspan font-family="'Liberation Serif', serif" font-size="19.5" dx="0.4">λ</tspan><tspan font-family="'Liberation Serif', serif" font-size="23" dx="0.6">)</tspan></text>
<text x="0.00" y="0.00" font-size="44" text-anchor="start" font-weight="bold" font-family="'Liberation Sans', Arial, sans-serif" fill="#000" transform="translate(891.20 36.00) scale(0.95 1)">B</text>
</svg>
</body></html>
